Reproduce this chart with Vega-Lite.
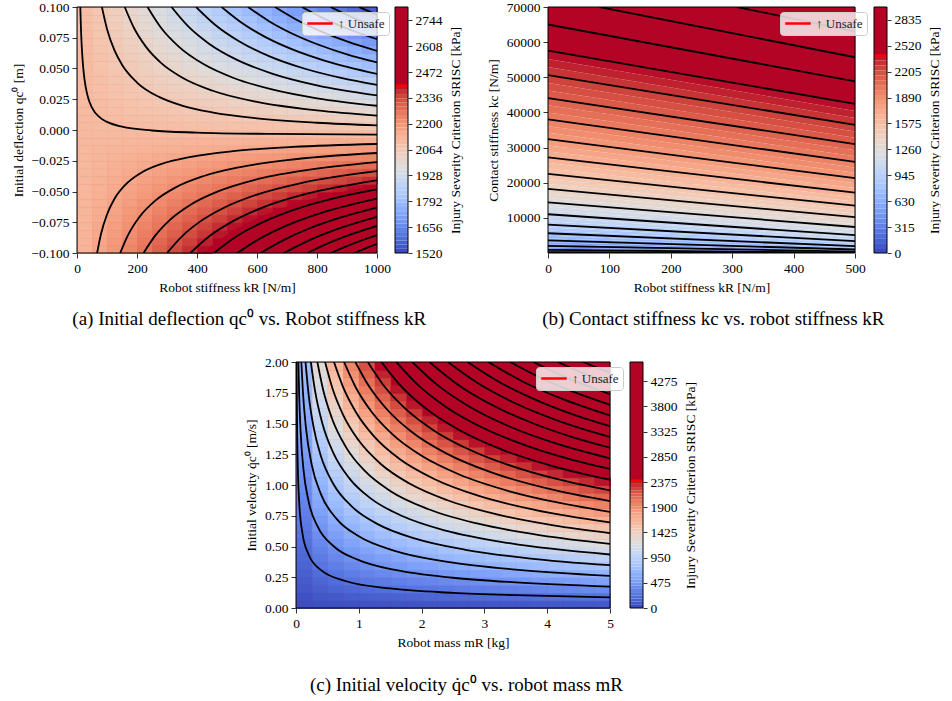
{
"$schema": "https://vega.github.io/schema/vega-lite/v6.json",
"background": "#ffffff",
"padding": {"left": 11, "top": 0, "right": 0, "bottom": 0},
"config": {
 "font": "Liberation Serif",
 "view": {"stroke": null},
 "axis": {"labelFont": "Liberation Serif", "titleFont": "Liberation Serif", "labelFontSize": 13.5, "titleFontSize": 13.5, "titleFontWeight": "normal", "labelColor": "#000000", "titleColor": "#000000", "tickColor": "#000000", "tickSize": 5, "tickWidth": 0.8, "domain": false, "grid": true, "gridColor": "#b0b0b0", "gridWidth": 0.8, "labelPadding": 3, "titlePadding": 6, "labelFlush": false, "labelOverlap": false, "zindex": 1},
 "legend": {"orient": "none", "title": null, "symbolType": "stroke", "symbolStrokeWidth": 2.5, "symbolSize": 650, "clipHeight": 15, "labelFont": "Liberation Serif", "labelFontSize": 13, "labelColor": "#222222", "fillColor": "rgba(255,255,255,0.8)", "strokeColor": "#cccccc", "cornerRadius": 3, "padding": 4},
 "title": {"font": "Liberation Serif", "fontSize": 19, "fontWeight": "normal", "color": "#000000"}
},
"datasets": {
 "fa": [{"x0":0,"x1":1000,"y0":-0.1,"y1":0.1,"v":3000}],
 "fb": [{"x0":0,"x1":500,"y0":0,"y1":70000,"v":3000}],
 "fc": [{"x0":0,"x1":5,"y0":0,"y1":2,"v":5000}],
 "ra": [{"k":421,"lo":-0.1,"hi":-0.1},{"k":450,"lo":-0.1,"hi":-0.0939},{"k":500,"lo":-0.1,"hi":-0.085},{"k":550,"lo":-0.1,"hi":-0.0777},{"k":600,"lo":-0.1,"hi":-0.0717},{"k":700,"lo":-0.1,"hi":-0.0621},{"k":800,"lo":-0.1,"hi":-0.055},{"k":900,"lo":-0.1,"hi":-0.0494},{"k":1000,"lo":-0.1,"hi":-0.045}],
 "rc": [{"m":1.339,"lo":2,"hi":2},{"m":1.5,"lo":1.889,"hi":2},{"m":1.75,"lo":1.749,"hi":2},{"m":2,"lo":1.636,"hi":2},{"m":2.5,"lo":1.4635,"hi":2},{"m":3,"lo":1.336,"hi":2},{"m":3.5,"lo":1.237,"hi":2},{"m":4,"lo":1.157,"hi":2},{"m":4.5,"lo":1.091,"hi":2},{"m":5,"lo":1.035,"hi":2}],
 "ha": [
{"k":25,"q":-0.096875,"v":2117},{"k":75,"q":-0.096875,"v":2152},{"k":125,"q":-0.096875,"v":2186},{"k":175,"q":-0.096875,"v":2221},{"k":225,"q":-0.096875,"v":2255},{"k":275,"q":-0.096875,"v":2290},{"k":325,"q":-0.096875,"v":2324},{"k":375,"q":-0.096875,"v":2358},{"k":425,"q":-0.096875,"v":2393},
{"k":25,"q":-0.090625,"v":2116},{"k":75,"q":-0.090625,"v":2148},{"k":125,"q":-0.090625,"v":2180},{"k":175,"q":-0.090625,"v":2212},{"k":225,"q":-0.090625,"v":2244},{"k":275,"q":-0.090625,"v":2277},{"k":325,"q":-0.090625,"v":2309},{"k":375,"q":-0.090625,"v":2341},{"k":425,"q":-0.090625,"v":2373},
{"k":25,"q":-0.084375,"v":2115},{"k":75,"q":-0.084375,"v":2145},{"k":125,"q":-0.084375,"v":2174},{"k":175,"q":-0.084375,"v":2204},{"k":225,"q":-0.084375,"v":2234},{"k":275,"q":-0.084375,"v":2264},{"k":325,"q":-0.084375,"v":2294},{"k":375,"q":-0.084375,"v":2323},{"k":425,"q":-0.084375,"v":2353},{"k":475,"q":-0.084375,"v":2383},
{"k":25,"q":-0.078125,"v":2114},{"k":75,"q":-0.078125,"v":2141},{"k":125,"q":-0.078125,"v":2168},{"k":175,"q":-0.078125,"v":2196},{"k":225,"q":-0.078125,"v":2223},{"k":275,"q":-0.078125,"v":2251},{"k":325,"q":-0.078125,"v":2278},{"k":375,"q":-0.078125,"v":2306},{"k":425,"q":-0.078125,"v":2333},{"k":475,"q":-0.078125,"v":2360},{"k":525,"q":-0.078125,"v":2388},
{"k":25,"q":-0.071875,"v":2113},{"k":75,"q":-0.071875,"v":2138},{"k":125,"q":-0.071875,"v":2163},{"k":175,"q":-0.071875,"v":2188},{"k":225,"q":-0.071875,"v":2213},{"k":275,"q":-0.071875,"v":2238},{"k":325,"q":-0.071875,"v":2263},{"k":375,"q":-0.071875,"v":2288},{"k":425,"q":-0.071875,"v":2313},{"k":475,"q":-0.071875,"v":2338},{"k":525,"q":-0.071875,"v":2363},{"k":575,"q":-0.071875,"v":2388},
{"k":25,"q":-0.065625,"v":2111},{"k":75,"q":-0.065625,"v":2134},{"k":125,"q":-0.065625,"v":2157},{"k":175,"q":-0.065625,"v":2180},{"k":225,"q":-0.065625,"v":2202},{"k":275,"q":-0.065625,"v":2225},{"k":325,"q":-0.065625,"v":2248},{"k":375,"q":-0.065625,"v":2270},{"k":425,"q":-0.065625,"v":2293},{"k":475,"q":-0.065625,"v":2316},{"k":525,"q":-0.065625,"v":2339},{"k":575,"q":-0.065625,"v":2361},{"k":625,"q":-0.065625,"v":2384},
{"k":25,"q":-0.059375,"v":2110},{"k":75,"q":-0.059375,"v":2131},{"k":125,"q":-0.059375,"v":2151},{"k":175,"q":-0.059375,"v":2171},{"k":225,"q":-0.059375,"v":2192},{"k":275,"q":-0.059375,"v":2212},{"k":325,"q":-0.059375,"v":2233},{"k":375,"q":-0.059375,"v":2253},{"k":425,"q":-0.059375,"v":2273},{"k":475,"q":-0.059375,"v":2294},{"k":525,"q":-0.059375,"v":2314},{"k":575,"q":-0.059375,"v":2334},{"k":625,"q":-0.059375,"v":2355},{"k":675,"q":-0.059375,"v":2375},{"k":725,"q":-0.059375,"v":2396},
{"k":25,"q":-0.053125,"v":2109},{"k":75,"q":-0.053125,"v":2127},{"k":125,"q":-0.053125,"v":2145},{"k":175,"q":-0.053125,"v":2163},{"k":225,"q":-0.053125,"v":2181},{"k":275,"q":-0.053125,"v":2199},{"k":325,"q":-0.053125,"v":2217},{"k":375,"q":-0.053125,"v":2235},{"k":425,"q":-0.053125,"v":2253},{"k":475,"q":-0.053125,"v":2271},{"k":525,"q":-0.053125,"v":2289},{"k":575,"q":-0.053125,"v":2307},{"k":625,"q":-0.053125,"v":2326},{"k":675,"q":-0.053125,"v":2344},{"k":725,"q":-0.053125,"v":2362},{"k":775,"q":-0.053125,"v":2380},{"k":825,"q":-0.053125,"v":2398},
{"k":25,"q":-0.046875,"v":2108},{"k":75,"q":-0.046875,"v":2124},{"k":125,"q":-0.046875,"v":2139},{"k":175,"q":-0.046875,"v":2155},{"k":225,"q":-0.046875,"v":2171},{"k":275,"q":-0.046875,"v":2186},{"k":325,"q":-0.046875,"v":2202},{"k":375,"q":-0.046875,"v":2218},{"k":425,"q":-0.046875,"v":2234},{"k":475,"q":-0.046875,"v":2249},{"k":525,"q":-0.046875,"v":2265},{"k":575,"q":-0.046875,"v":2281},{"k":625,"q":-0.046875,"v":2296},{"k":675,"q":-0.046875,"v":2312},{"k":725,"q":-0.046875,"v":2328},{"k":775,"q":-0.046875,"v":2343},{"k":825,"q":-0.046875,"v":2359},{"k":875,"q":-0.046875,"v":2375},{"k":925,"q":-0.046875,"v":2390},
{"k":25,"q":-0.040625,"v":2107},{"k":75,"q":-0.040625,"v":2120},{"k":125,"q":-0.040625,"v":2133},{"k":175,"q":-0.040625,"v":2147},{"k":225,"q":-0.040625,"v":2160},{"k":275,"q":-0.040625,"v":2174},{"k":325,"q":-0.040625,"v":2187},{"k":375,"q":-0.040625,"v":2200},{"k":425,"q":-0.040625,"v":2214},{"k":475,"q":-0.040625,"v":2227},{"k":525,"q":-0.040625,"v":2240},{"k":575,"q":-0.040625,"v":2254},{"k":625,"q":-0.040625,"v":2267},{"k":675,"q":-0.040625,"v":2280},{"k":725,"q":-0.040625,"v":2294},{"k":775,"q":-0.040625,"v":2307},{"k":825,"q":-0.040625,"v":2321},{"k":875,"q":-0.040625,"v":2334},{"k":925,"q":-0.040625,"v":2347},{"k":975,"q":-0.040625,"v":2361},
{"k":25,"q":-0.034375,"v":2106},{"k":75,"q":-0.034375,"v":2117},{"k":125,"q":-0.034375,"v":2128},{"k":175,"q":-0.034375,"v":2139},{"k":225,"q":-0.034375,"v":2150},{"k":275,"q":-0.034375,"v":2161},{"k":325,"q":-0.034375,"v":2172},{"k":375,"q":-0.034375,"v":2183},{"k":425,"q":-0.034375,"v":2194},{"k":475,"q":-0.034375,"v":2205},{"k":525,"q":-0.034375,"v":2216},{"k":575,"q":-0.034375,"v":2227},{"k":625,"q":-0.034375,"v":2238},{"k":675,"q":-0.034375,"v":2249},{"k":725,"q":-0.034375,"v":2260},{"k":775,"q":-0.034375,"v":2271},{"k":825,"q":-0.034375,"v":2282},{"k":875,"q":-0.034375,"v":2293},{"k":925,"q":-0.034375,"v":2304},{"k":975,"q":-0.034375,"v":2315},
{"k":25,"q":-0.028125,"v":2104},{"k":75,"q":-0.028125,"v":2113},{"k":125,"q":-0.028125,"v":2122},{"k":175,"q":-0.028125,"v":2130},{"k":225,"q":-0.028125,"v":2139},{"k":275,"q":-0.028125,"v":2148},{"k":325,"q":-0.028125,"v":2156},{"k":375,"q":-0.028125,"v":2165},{"k":425,"q":-0.028125,"v":2174},{"k":475,"q":-0.028125,"v":2182},{"k":525,"q":-0.028125,"v":2191},{"k":575,"q":-0.028125,"v":2200},{"k":625,"q":-0.028125,"v":2208},{"k":675,"q":-0.028125,"v":2217},{"k":725,"q":-0.028125,"v":2226},{"k":775,"q":-0.028125,"v":2234},{"k":825,"q":-0.028125,"v":2243},{"k":875,"q":-0.028125,"v":2252},{"k":925,"q":-0.028125,"v":2260},{"k":975,"q":-0.028125,"v":2269},
{"k":25,"q":-0.021875,"v":2103},{"k":75,"q":-0.021875,"v":2110},{"k":125,"q":-0.021875,"v":2116},{"k":175,"q":-0.021875,"v":2122},{"k":225,"q":-0.021875,"v":2129},{"k":275,"q":-0.021875,"v":2135},{"k":325,"q":-0.021875,"v":2141},{"k":375,"q":-0.021875,"v":2148},{"k":425,"q":-0.021875,"v":2154},{"k":475,"q":-0.021875,"v":2160},{"k":525,"q":-0.021875,"v":2166},{"k":575,"q":-0.021875,"v":2173},{"k":625,"q":-0.021875,"v":2179},{"k":675,"q":-0.021875,"v":2185},{"k":725,"q":-0.021875,"v":2192},{"k":775,"q":-0.021875,"v":2198},{"k":825,"q":-0.021875,"v":2204},{"k":875,"q":-0.021875,"v":2211},{"k":925,"q":-0.021875,"v":2217},{"k":975,"q":-0.021875,"v":2223},
{"k":25,"q":-0.015625,"v":2102},{"k":75,"q":-0.015625,"v":2106},{"k":125,"q":-0.015625,"v":2110},{"k":175,"q":-0.015625,"v":2114},{"k":225,"q":-0.015625,"v":2118},{"k":275,"q":-0.015625,"v":2122},{"k":325,"q":-0.015625,"v":2126},{"k":375,"q":-0.015625,"v":2130},{"k":425,"q":-0.015625,"v":2134},{"k":475,"q":-0.015625,"v":2138},{"k":525,"q":-0.015625,"v":2142},{"k":575,"q":-0.015625,"v":2146},{"k":625,"q":-0.015625,"v":2150},{"k":675,"q":-0.015625,"v":2154},{"k":725,"q":-0.015625,"v":2158},{"k":775,"q":-0.015625,"v":2162},{"k":825,"q":-0.015625,"v":2166},{"k":875,"q":-0.015625,"v":2170},{"k":925,"q":-0.015625,"v":2174},{"k":975,"q":-0.015625,"v":2178},
{"k":25,"q":-0.009375,"v":2101},{"k":75,"q":-0.009375,"v":2102},{"k":125,"q":-0.009375,"v":2104},{"k":175,"q":-0.009375,"v":2106},{"k":225,"q":-0.009375,"v":2107},{"k":275,"q":-0.009375,"v":2109},{"k":325,"q":-0.009375,"v":2111},{"k":375,"q":-0.009375,"v":2112},{"k":425,"q":-0.009375,"v":2114},{"k":475,"q":-0.009375,"v":2116},{"k":525,"q":-0.009375,"v":2117},{"k":575,"q":-0.009375,"v":2119},{"k":625,"q":-0.009375,"v":2120},{"k":675,"q":-0.009375,"v":2122},{"k":725,"q":-0.009375,"v":2124},{"k":775,"q":-0.009375,"v":2125},{"k":825,"q":-0.009375,"v":2127},{"k":875,"q":-0.009375,"v":2129},{"k":925,"q":-0.009375,"v":2130},{"k":975,"q":-0.009375,"v":2132},
{"k":25,"q":-0.003125,"v":2100},{"k":75,"q":-0.003125,"v":2099},{"k":125,"q":-0.003125,"v":2099},{"k":175,"q":-0.003125,"v":2098},{"k":225,"q":-0.003125,"v":2098},{"k":275,"q":-0.003125,"v":2097},{"k":325,"q":-0.003125,"v":2097},{"k":375,"q":-0.003125,"v":2096},{"k":425,"q":-0.003125,"v":2096},{"k":475,"q":-0.003125,"v":2095},{"k":525,"q":-0.003125,"v":2095},{"k":575,"q":-0.003125,"v":2094},{"k":625,"q":-0.003125,"v":2094},{"k":675,"q":-0.003125,"v":2093},{"k":725,"q":-0.003125,"v":2093},{"k":775,"q":-0.003125,"v":2092},{"k":825,"q":-0.003125,"v":2091},{"k":875,"q":-0.003125,"v":2091},{"k":925,"q":-0.003125,"v":2090},{"k":975,"q":-0.003125,"v":2090},
{"k":25,"q":0.003125,"v":2099},{"k":75,"q":0.003125,"v":2097},{"k":125,"q":0.003125,"v":2094},{"k":175,"q":0.003125,"v":2092},{"k":225,"q":0.003125,"v":2090},{"k":275,"q":0.003125,"v":2088},{"k":325,"q":0.003125,"v":2086},{"k":375,"q":0.003125,"v":2083},{"k":425,"q":0.003125,"v":2081},{"k":475,"q":0.003125,"v":2079},{"k":525,"q":0.003125,"v":2077},{"k":575,"q":0.003125,"v":2074},{"k":625,"q":0.003125,"v":2072},{"k":675,"q":0.003125,"v":2070},{"k":725,"q":0.003125,"v":2068},{"k":775,"q":0.003125,"v":2065},{"k":825,"q":0.003125,"v":2063},{"k":875,"q":0.003125,"v":2061},{"k":925,"q":0.003125,"v":2059},{"k":975,"q":0.003125,"v":2056},
{"k":25,"q":0.009375,"v":2098},{"k":75,"q":0.009375,"v":2094},{"k":125,"q":0.009375,"v":2090},{"k":175,"q":0.009375,"v":2086},{"k":225,"q":0.009375,"v":2082},{"k":275,"q":0.009375,"v":2078},{"k":325,"q":0.009375,"v":2074},{"k":375,"q":0.009375,"v":2070},{"k":425,"q":0.009375,"v":2066},{"k":475,"q":0.009375,"v":2062},{"k":525,"q":0.009375,"v":2058},{"k":575,"q":0.009375,"v":2055},{"k":625,"q":0.009375,"v":2051},{"k":675,"q":0.009375,"v":2047},{"k":725,"q":0.009375,"v":2043},{"k":775,"q":0.009375,"v":2039},{"k":825,"q":0.009375,"v":2035},{"k":875,"q":0.009375,"v":2031},{"k":925,"q":0.009375,"v":2027},{"k":975,"q":0.009375,"v":2023},
{"k":25,"q":0.015625,"v":2097},{"k":75,"q":0.015625,"v":2092},{"k":125,"q":0.015625,"v":2086},{"k":175,"q":0.015625,"v":2080},{"k":225,"q":0.015625,"v":2075},{"k":275,"q":0.015625,"v":2069},{"k":325,"q":0.015625,"v":2063},{"k":375,"q":0.015625,"v":2058},{"k":425,"q":0.015625,"v":2052},{"k":475,"q":0.015625,"v":2046},{"k":525,"q":0.015625,"v":2041},{"k":575,"q":0.015625,"v":2035},{"k":625,"q":0.015625,"v":2029},{"k":675,"q":0.015625,"v":2023},{"k":725,"q":0.015625,"v":2018},{"k":775,"q":0.015625,"v":2012},{"k":825,"q":0.015625,"v":2006},{"k":875,"q":0.015625,"v":2001},{"k":925,"q":0.015625,"v":1995},{"k":975,"q":0.015625,"v":1989},
{"k":25,"q":0.021875,"v":2096},{"k":75,"q":0.021875,"v":2089},{"k":125,"q":0.021875,"v":2082},{"k":175,"q":0.021875,"v":2074},{"k":225,"q":0.021875,"v":2067},{"k":275,"q":0.021875,"v":2059},{"k":325,"q":0.021875,"v":2052},{"k":375,"q":0.021875,"v":2045},{"k":425,"q":0.021875,"v":2037},{"k":475,"q":0.021875,"v":2030},{"k":525,"q":0.021875,"v":2022},{"k":575,"q":0.021875,"v":2015},{"k":625,"q":0.021875,"v":2008},{"k":675,"q":0.021875,"v":2000},{"k":725,"q":0.021875,"v":1993},{"k":775,"q":0.021875,"v":1985},{"k":825,"q":0.021875,"v":1978},{"k":875,"q":0.021875,"v":1971},{"k":925,"q":0.021875,"v":1963},{"k":975,"q":0.021875,"v":1956},
{"k":25,"q":0.028125,"v":2095},{"k":75,"q":0.028125,"v":2086},{"k":125,"q":0.028125,"v":2077},{"k":175,"q":0.028125,"v":2068},{"k":225,"q":0.028125,"v":2059},{"k":275,"q":0.028125,"v":2050},{"k":325,"q":0.028125,"v":2041},{"k":375,"q":0.028125,"v":2032},{"k":425,"q":0.028125,"v":2023},{"k":475,"q":0.028125,"v":2013},{"k":525,"q":0.028125,"v":2004},{"k":575,"q":0.028125,"v":1995},{"k":625,"q":0.028125,"v":1986},{"k":675,"q":0.028125,"v":1977},{"k":725,"q":0.028125,"v":1968},{"k":775,"q":0.028125,"v":1959},{"k":825,"q":0.028125,"v":1950},{"k":875,"q":0.028125,"v":1941},{"k":925,"q":0.028125,"v":1931},{"k":975,"q":0.028125,"v":1922},
{"k":25,"q":0.034375,"v":2095},{"k":75,"q":0.034375,"v":2084},{"k":125,"q":0.034375,"v":2073},{"k":175,"q":0.034375,"v":2062},{"k":225,"q":0.034375,"v":2051},{"k":275,"q":0.034375,"v":2041},{"k":325,"q":0.034375,"v":2030},{"k":375,"q":0.034375,"v":2019},{"k":425,"q":0.034375,"v":2008},{"k":475,"q":0.034375,"v":1997},{"k":525,"q":0.034375,"v":1986},{"k":575,"q":0.034375,"v":1975},{"k":625,"q":0.034375,"v":1965},{"k":675,"q":0.034375,"v":1954},{"k":725,"q":0.034375,"v":1943},{"k":775,"q":0.034375,"v":1932},{"k":825,"q":0.034375,"v":1921},{"k":875,"q":0.034375,"v":1910},{"k":925,"q":0.034375,"v":1900},{"k":975,"q":0.034375,"v":1889},
{"k":25,"q":0.040625,"v":2094},{"k":75,"q":0.040625,"v":2081},{"k":125,"q":0.040625,"v":2069},{"k":175,"q":0.040625,"v":2056},{"k":225,"q":0.040625,"v":2043},{"k":275,"q":0.040625,"v":2031},{"k":325,"q":0.040625,"v":2018},{"k":375,"q":0.040625,"v":2006},{"k":425,"q":0.040625,"v":1993},{"k":475,"q":0.040625,"v":1981},{"k":525,"q":0.040625,"v":1968},{"k":575,"q":0.040625,"v":1956},{"k":625,"q":0.040625,"v":1943},{"k":675,"q":0.040625,"v":1931},{"k":725,"q":0.040625,"v":1918},{"k":775,"q":0.040625,"v":1905},{"k":825,"q":0.040625,"v":1893},{"k":875,"q":0.040625,"v":1880},{"k":925,"q":0.040625,"v":1868},{"k":975,"q":0.040625,"v":1855},
{"k":25,"q":0.046875,"v":2093},{"k":75,"q":0.046875,"v":2079},{"k":125,"q":0.046875,"v":2064},{"k":175,"q":0.046875,"v":2050},{"k":225,"q":0.046875,"v":2036},{"k":275,"q":0.046875,"v":2022},{"k":325,"q":0.046875,"v":2007},{"k":375,"q":0.046875,"v":1993},{"k":425,"q":0.046875,"v":1979},{"k":475,"q":0.046875,"v":1964},{"k":525,"q":0.046875,"v":1950},{"k":575,"q":0.046875,"v":1936},{"k":625,"q":0.046875,"v":1922},{"k":675,"q":0.046875,"v":1907},{"k":725,"q":0.046875,"v":1893},{"k":775,"q":0.046875,"v":1879},{"k":825,"q":0.046875,"v":1865},{"k":875,"q":0.046875,"v":1850},{"k":925,"q":0.046875,"v":1836},{"k":975,"q":0.046875,"v":1822},
{"k":25,"q":0.053125,"v":2092},{"k":75,"q":0.053125,"v":2076},{"k":125,"q":0.053125,"v":2060},{"k":175,"q":0.053125,"v":2044},{"k":225,"q":0.053125,"v":2028},{"k":275,"q":0.053125,"v":2012},{"k":325,"q":0.053125,"v":1996},{"k":375,"q":0.053125,"v":1980},{"k":425,"q":0.053125,"v":1964},{"k":475,"q":0.053125,"v":1948},{"k":525,"q":0.053125,"v":1932},{"k":575,"q":0.053125,"v":1916},{"k":625,"q":0.053125,"v":1900},{"k":675,"q":0.053125,"v":1884},{"k":725,"q":0.053125,"v":1868},{"k":775,"q":0.053125,"v":1852},{"k":825,"q":0.053125,"v":1836},{"k":875,"q":0.053125,"v":1820},{"k":925,"q":0.053125,"v":1804},{"k":975,"q":0.053125,"v":1788},
{"k":25,"q":0.059375,"v":2091},{"k":75,"q":0.059375,"v":2074},{"k":125,"q":0.059375,"v":2056},{"k":175,"q":0.059375,"v":2038},{"k":225,"q":0.059375,"v":2020},{"k":275,"q":0.059375,"v":2003},{"k":325,"q":0.059375,"v":1985},{"k":375,"q":0.059375,"v":1967},{"k":425,"q":0.059375,"v":1950},{"k":475,"q":0.059375,"v":1932},{"k":525,"q":0.059375,"v":1914},{"k":575,"q":0.059375,"v":1897},{"k":625,"q":0.059375,"v":1879},{"k":675,"q":0.059375,"v":1861},{"k":725,"q":0.059375,"v":1843},{"k":775,"q":0.059375,"v":1826},{"k":825,"q":0.059375,"v":1808},{"k":875,"q":0.059375,"v":1790},{"k":925,"q":0.059375,"v":1773},{"k":975,"q":0.059375,"v":1755},
{"k":25,"q":0.065625,"v":2090},{"k":75,"q":0.065625,"v":2071},{"k":125,"q":0.065625,"v":2052},{"k":175,"q":0.065625,"v":2032},{"k":225,"q":0.065625,"v":2013},{"k":275,"q":0.065625,"v":1993},{"k":325,"q":0.065625,"v":1974},{"k":375,"q":0.065625,"v":1954},{"k":425,"q":0.065625,"v":1935},{"k":475,"q":0.065625,"v":1916},{"k":525,"q":0.065625,"v":1896},{"k":575,"q":0.065625,"v":1877},{"k":625,"q":0.065625,"v":1857},{"k":675,"q":0.065625,"v":1838},{"k":725,"q":0.065625,"v":1818},{"k":775,"q":0.065625,"v":1799},{"k":825,"q":0.065625,"v":1780},{"k":875,"q":0.065625,"v":1760},{"k":925,"q":0.065625,"v":1741},{"k":975,"q":0.065625,"v":1721},
{"k":25,"q":0.071875,"v":2089},{"k":75,"q":0.071875,"v":2068},{"k":125,"q":0.071875,"v":2047},{"k":175,"q":0.071875,"v":2026},{"k":225,"q":0.071875,"v":2005},{"k":275,"q":0.071875,"v":1984},{"k":325,"q":0.071875,"v":1963},{"k":375,"q":0.071875,"v":1941},{"k":425,"q":0.071875,"v":1920},{"k":475,"q":0.071875,"v":1899},{"k":525,"q":0.071875,"v":1878},{"k":575,"q":0.071875,"v":1857},{"k":625,"q":0.071875,"v":1836},{"k":675,"q":0.071875,"v":1815},{"k":725,"q":0.071875,"v":1794},{"k":775,"q":0.071875,"v":1772},{"k":825,"q":0.071875,"v":1751},{"k":875,"q":0.071875,"v":1730},{"k":925,"q":0.071875,"v":1709},{"k":975,"q":0.071875,"v":1688},
{"k":25,"q":0.078125,"v":2089},{"k":75,"q":0.078125,"v":2066},{"k":125,"q":0.078125,"v":2043},{"k":175,"q":0.078125,"v":2020},{"k":225,"q":0.078125,"v":1997},{"k":275,"q":0.078125,"v":1974},{"k":325,"q":0.078125,"v":1951},{"k":375,"q":0.078125,"v":1929},{"k":425,"q":0.078125,"v":1906},{"k":475,"q":0.078125,"v":1883},{"k":525,"q":0.078125,"v":1860},{"k":575,"q":0.078125,"v":1837},{"k":625,"q":0.078125,"v":1814},{"k":675,"q":0.078125,"v":1791},{"k":725,"q":0.078125,"v":1768},{"k":775,"q":0.078125,"v":1746},{"k":825,"q":0.078125,"v":1723},{"k":875,"q":0.078125,"v":1700},{"k":925,"q":0.078125,"v":1677},{"k":975,"q":0.078125,"v":1654},
{"k":25,"q":0.084375,"v":2088},{"k":75,"q":0.084375,"v":2063},{"k":125,"q":0.084375,"v":2039},{"k":175,"q":0.084375,"v":2014},{"k":225,"q":0.084375,"v":1989},{"k":275,"q":0.084375,"v":1965},{"k":325,"q":0.084375,"v":1940},{"k":375,"q":0.084375,"v":1916},{"k":425,"q":0.084375,"v":1891},{"k":475,"q":0.084375,"v":1866},{"k":525,"q":0.084375,"v":1842},{"k":575,"q":0.084375,"v":1817},{"k":625,"q":0.084375,"v":1793},{"k":675,"q":0.084375,"v":1768},{"k":725,"q":0.084375,"v":1743},{"k":775,"q":0.084375,"v":1719},{"k":825,"q":0.084375,"v":1694},{"k":875,"q":0.084375,"v":1670},{"k":925,"q":0.084375,"v":1645},{"k":975,"q":0.084375,"v":1620},
{"k":25,"q":0.090625,"v":2087},{"k":75,"q":0.090625,"v":2061},{"k":125,"q":0.090625,"v":2034},{"k":175,"q":0.090625,"v":2008},{"k":225,"q":0.090625,"v":1982},{"k":275,"q":0.090625,"v":1955},{"k":325,"q":0.090625,"v":1929},{"k":375,"q":0.090625,"v":1903},{"k":425,"q":0.090625,"v":1876},{"k":475,"q":0.090625,"v":1850},{"k":525,"q":0.090625,"v":1824},{"k":575,"q":0.090625,"v":1797},{"k":625,"q":0.090625,"v":1771},{"k":675,"q":0.090625,"v":1745},{"k":725,"q":0.090625,"v":1719},{"k":775,"q":0.090625,"v":1692},{"k":825,"q":0.090625,"v":1666},{"k":875,"q":0.090625,"v":1640},{"k":925,"q":0.090625,"v":1613},{"k":975,"q":0.090625,"v":1587},
{"k":25,"q":0.096875,"v":2086},{"k":75,"q":0.096875,"v":2058},{"k":125,"q":0.096875,"v":2030},{"k":175,"q":0.096875,"v":2002},{"k":225,"q":0.096875,"v":1974},{"k":275,"q":0.096875,"v":1946},{"k":325,"q":0.096875,"v":1918},{"k":375,"q":0.096875,"v":1890},{"k":425,"q":0.096875,"v":1862},{"k":475,"q":0.096875,"v":1834},{"k":525,"q":0.096875,"v":1806},{"k":575,"q":0.096875,"v":1778},{"k":625,"q":0.096875,"v":1750},{"k":675,"q":0.096875,"v":1722},{"k":725,"q":0.096875,"v":1694},{"k":775,"q":0.096875,"v":1666},{"k":825,"q":0.096875,"v":1638},{"k":875,"q":0.096875,"v":1610},{"k":925,"q":0.096875,"v":1582},{"k":975,"q":0.096875,"v":1554}
 ],
 "la": [
{"n":0,"k":11,"q":0.1},{"n":0,"k":13,"q":0.0838},{"n":0,"k":16,"q":0.0672},{"n":0,"k":20,"q":0.0528},{"n":0,"k":25,"q":0.0412},{"n":0,"k":35,"q":0.028},{"n":0,"k":50,"q":0.0181},{"n":0,"k":75,"q":0.0104},{"n":0,"k":100,"q":0.0066},{"n":0,"k":150,"q":0.0027},{"n":0,"k":250,"q":-0.0004},{"n":0,"k":400,"q":-0.0021},{"n":0,"k":650,"q":-0.0032},{"n":0,"k":1000,"q":-0.0038},
{"n":1,"k":83,"q":0.1},{"n":1,"k":100,"q":0.0822},{"n":1,"k":125,"q":0.0647},{"n":1,"k":150,"q":0.0531},{"n":1,"k":200,"q":0.0386},{"n":1,"k":275,"q":0.0267},{"n":1,"k":350,"q":0.0199},{"n":1,"k":450,"q":0.0144},{"n":1,"k":600,"q":0.0095},{"n":1,"k":800,"q":0.0059},{"n":1,"k":1000,"q":0.0037},
{"n":2,"k":159,"q":0.1},{"n":2,"k":190,"q":0.0829},{"n":2,"k":230,"q":0.0676},{"n":2,"k":280,"q":0.0546},{"n":2,"k":350,"q":0.0427},{"n":2,"k":450,"q":0.0321},{"n":2,"k":600,"q":0.0228},{"n":2,"k":800,"q":0.0159},{"n":2,"k":1000,"q":0.0117},
{"n":3,"k":235,"q":0.1},{"n":3,"k":280,"q":0.0831},{"n":3,"k":340,"q":0.0676},{"n":3,"k":420,"q":0.0538},{"n":3,"k":520,"q":0.0425},{"n":3,"k":650,"q":0.033},{"n":3,"k":800,"q":0.0258},{"n":3,"k":1000,"q":0.0197},
{"n":4,"k":315,"q":0.1},{"n":4,"k":370,"q":0.0844},{"n":4,"k":440,"q":0.0702},{"n":4,"k":530,"q":0.0574},{"n":4,"k":650,"q":0.0459},{"n":4,"k":800,"q":0.0363},{"n":4,"k":1000,"q":0.0281},
{"n":5,"k":397,"q":0.1},{"n":5,"k":460,"q":0.0856},{"n":5,"k":540,"q":0.0722},{"n":5,"k":640,"q":0.0601},{"n":5,"k":760,"q":0.0498},{"n":5,"k":880,"q":0.0424},{"n":5,"k":1000,"q":0.0367},
{"n":6,"k":482,"q":0.1},{"n":6,"k":550,"q":0.087},{"n":6,"k":630,"q":0.0753},{"n":6,"k":720,"q":0.0653},{"n":6,"k":830,"q":0.056},{"n":6,"k":1000,"q":0.0456},
{"n":7,"k":570,"q":0.1},{"n":7,"k":640,"q":0.0885},{"n":7,"k":720,"q":0.0781},{"n":7,"k":810,"q":0.0689},{"n":7,"k":900,"q":0.0615},{"n":7,"k":1000,"q":0.0549},
{"n":8,"k":660,"q":0.1},{"n":8,"k":730,"q":0.0899},{"n":8,"k":800,"q":0.0816},{"n":8,"k":900,"q":0.072},{"n":8,"k":1000,"q":0.0643},
{"n":9,"k":750,"q":0.1},{"n":9,"k":820,"q":0.091},{"n":9,"k":900,"q":0.0825},{"n":9,"k":1000,"q":0.0738},
{"n":10,"k":845,"q":0.1},{"n":10,"k":920,"q":0.0914},{"n":10,"k":1000,"q":0.0837},
{"n":11,"k":940,"q":0.1},{"n":11,"k":970,"q":0.0968},{"n":11,"k":1000,"q":0.0937},
{"n":20,"k":67,"q":-0.1},{"n":20,"k":80,"q":-0.0846},{"n":20,"k":100,"q":-0.0687},{"n":20,"k":125,"q":-0.0559},{"n":20,"k":160,"q":-0.0448},{"n":20,"k":210,"q":-0.0353},{"n":20,"k":280,"q":-0.0277},{"n":20,"k":380,"q":-0.0218},{"n":20,"k":520,"q":-0.0172},{"n":20,"k":720,"q":-0.0138},{"n":20,"k":1000,"q":-0.0114},
{"n":21,"k":144,"q":-0.1},{"n":21,"k":170,"q":-0.0855},{"n":21,"k":210,"q":-0.0701},{"n":21,"k":260,"q":-0.0576},{"n":21,"k":330,"q":-0.0465},{"n":21,"k":420,"q":-0.0376},{"n":21,"k":540,"q":-0.0303},{"n":21,"k":700,"q":-0.0245},{"n":21,"k":1000,"q":-0.0187},
{"n":22,"k":222,"q":-0.1},{"n":22,"k":260,"q":-0.0861},{"n":22,"k":310,"q":-0.073},{"n":22,"k":380,"q":-0.0605},{"n":22,"k":470,"q":-0.0499},{"n":22,"k":590,"q":-0.0407},{"n":22,"k":760,"q":-0.0328},{"n":22,"k":1000,"q":-0.0261},
{"n":23,"k":300,"q":-0.1},{"n":23,"k":350,"q":-0.0864},{"n":23,"k":410,"q":-0.0745},{"n":23,"k":490,"q":-0.0632},{"n":23,"k":600,"q":-0.0525},{"n":23,"k":750,"q":-0.043},{"n":23,"k":1000,"q":-0.0335},
{"n":24,"k":378,"q":-0.1},{"n":24,"k":440,"q":-0.0866},{"n":24,"k":520,"q":-0.0741},{"n":24,"k":620,"q":-0.0629},{"n":24,"k":760,"q":-0.0522},{"n":24,"k":1000,"q":-0.0409},
{"n":25,"k":456,"q":-0.1},{"n":25,"k":530,"q":-0.0867},{"n":25,"k":620,"q":-0.0749},{"n":25,"k":740,"q":-0.0635},{"n":25,"k":870,"q":-0.0548},{"n":25,"k":1000,"q":-0.0483},
{"n":26,"k":534,"q":-0.1},{"n":26,"k":610,"q":-0.0882},{"n":26,"k":700,"q":-0.0775},{"n":26,"k":820,"q":-0.0669},{"n":26,"k":1000,"q":-0.0557},
{"n":27,"k":612,"q":-0.1},{"n":27,"k":690,"q":-0.0893},{"n":27,"k":780,"q":-0.0795},{"n":27,"k":880,"q":-0.0711},{"n":27,"k":1000,"q":-0.0631},
{"n":28,"k":690,"q":-0.1},{"n":28,"k":770,"q":-0.0901},{"n":28,"k":860,"q":-0.0812},{"n":28,"k":1000,"q":-0.0706},
{"n":29,"k":768,"q":-0.1},{"n":29,"k":850,"q":-0.0908},{"n":29,"k":930,"q":-0.0835},{"n":29,"k":1000,"q":-0.078},
{"n":30,"k":846,"q":-0.1},{"n":30,"k":920,"q":-0.0924},{"n":30,"k":1000,"q":-0.0854},
{"n":31,"k":924,"q":-0.1},{"n":31,"k":960,"q":-0.0964},{"n":31,"k":1000,"q":-0.0928}
 ],
 "bb": [
{"b":0,"k":0,"lo":0,"hi":25,"v":25},{"b":0,"k":500,"lo":0,"hi":1,"v":25},
{"b":1,"k":0,"lo":25,"hi":100,"v":75},{"b":1,"k":500,"lo":1,"hi":4,"v":75},
{"b":2,"k":0,"lo":100,"hi":225,"v":125},{"b":2,"k":500,"lo":4,"hi":9,"v":125},
{"b":3,"k":0,"lo":225,"hi":400,"v":175},{"b":3,"k":500,"lo":9,"hi":28,"v":175},
{"b":4,"k":0,"lo":400,"hi":625,"v":225},{"b":4,"k":500,"lo":28,"hi":59,"v":225},
{"b":5,"k":0,"lo":625,"hi":900,"v":275},{"b":5,"k":500,"lo":59,"hi":100,"v":275},
{"b":6,"k":0,"lo":900,"hi":1225,"v":325},{"b":6,"k":500,"lo":100,"hi":177,"v":325},
{"b":7,"k":0,"lo":1225,"hi":1600,"v":375},{"b":7,"k":500,"lo":177,"hi":279,"v":375},
{"b":8,"k":0,"lo":1600,"hi":2025,"v":425},{"b":8,"k":500,"lo":279,"hi":400,"v":425},
{"b":9,"k":0,"lo":2025,"hi":2500,"v":475},{"b":9,"k":500,"lo":400,"hi":566,"v":475},
{"b":10,"k":0,"lo":2500,"hi":3025,"v":525},{"b":10,"k":500,"lo":566,"hi":767,"v":525},
{"b":11,"k":0,"lo":3025,"hi":3600,"v":575},{"b":11,"k":500,"lo":767,"hi":992,"v":575},
{"b":12,"k":0,"lo":3600,"hi":4225,"v":625},{"b":12,"k":500,"lo":992,"hi":1274,"v":625},
{"b":13,"k":0,"lo":4225,"hi":4900,"v":675},{"b":13,"k":500,"lo":1274,"hi":1592,"v":675},
{"b":14,"k":0,"lo":4900,"hi":5625,"v":725},{"b":14,"k":500,"lo":1592,"hi":1945,"v":725},
{"b":15,"k":0,"lo":5625,"hi":6400,"v":775},{"b":15,"k":500,"lo":1945,"hi":2372,"v":775},
{"b":16,"k":0,"lo":6400,"hi":7225,"v":825},{"b":16,"k":500,"lo":2372,"hi":2852,"v":825},
{"b":17,"k":0,"lo":7225,"hi":8100,"v":875},{"b":17,"k":500,"lo":2852,"hi":3364,"v":875},
{"b":18,"k":0,"lo":8100,"hi":9025,"v":925},{"b":18,"k":500,"lo":3364,"hi":3894,"v":925},
{"b":19,"k":0,"lo":9025,"hi":10000,"v":975},{"b":19,"k":500,"lo":3894,"hi":4462,"v":975},
{"b":20,"k":0,"lo":10000,"hi":11025,"v":1025},{"b":20,"k":500,"lo":4462,"hi":5069,"v":1025},
{"b":21,"k":0,"lo":11025,"hi":12100,"v":1075},{"b":21,"k":500,"lo":5069,"hi":5791,"v":1075},
{"b":22,"k":0,"lo":12100,"hi":13225,"v":1125},{"b":22,"k":500,"lo":5791,"hi":6577,"v":1125},
{"b":23,"k":0,"lo":13225,"hi":14400,"v":1175},{"b":23,"k":500,"lo":6577,"hi":7396,"v":1175},
{"b":24,"k":0,"lo":14400,"hi":15625,"v":1225},{"b":24,"k":500,"lo":7396,"hi":8281,"v":1225},
{"b":25,"k":0,"lo":15625,"hi":16900,"v":1275},{"b":25,"k":500,"lo":8281,"hi":9216,"v":1275},
{"b":26,"k":0,"lo":16900,"hi":18225,"v":1325},{"b":26,"k":500,"lo":9216,"hi":10201,"v":1325},
{"b":27,"k":0,"lo":18225,"hi":19600,"v":1375},{"b":27,"k":500,"lo":10201,"hi":11236,"v":1375},
{"b":28,"k":0,"lo":19600,"hi":21025,"v":1425},{"b":28,"k":500,"lo":11236,"hi":12321,"v":1425},
{"b":29,"k":0,"lo":21025,"hi":22500,"v":1475},{"b":29,"k":500,"lo":12321,"hi":13456,"v":1475},
{"b":30,"k":0,"lo":22500,"hi":24025,"v":1525},{"b":30,"k":500,"lo":13456,"hi":14641,"v":1525},
{"b":31,"k":0,"lo":24025,"hi":25600,"v":1575},{"b":31,"k":500,"lo":14641,"hi":15876,"v":1575},
{"b":32,"k":0,"lo":25600,"hi":27225,"v":1625},{"b":32,"k":500,"lo":15876,"hi":17161,"v":1625},
{"b":33,"k":0,"lo":27225,"hi":28900,"v":1675},{"b":33,"k":500,"lo":17161,"hi":18496,"v":1675},
{"b":34,"k":0,"lo":28900,"hi":30625,"v":1725},{"b":34,"k":500,"lo":18496,"hi":19881,"v":1725},
{"b":35,"k":0,"lo":30625,"hi":32400,"v":1775},{"b":35,"k":500,"lo":19881,"hi":21316,"v":1775},
{"b":36,"k":0,"lo":32400,"hi":34225,"v":1825},{"b":36,"k":500,"lo":21316,"hi":22801,"v":1825},
{"b":37,"k":0,"lo":34225,"hi":36100,"v":1875},{"b":37,"k":500,"lo":22801,"hi":24336,"v":1875},
{"b":38,"k":0,"lo":36100,"hi":38025,"v":1925},{"b":38,"k":500,"lo":24336,"hi":25921,"v":1925},
{"b":39,"k":0,"lo":38025,"hi":40000,"v":1975},{"b":39,"k":500,"lo":25921,"hi":27556,"v":1975},
{"b":40,"k":0,"lo":40000,"hi":42025,"v":2025},{"b":40,"k":500,"lo":27556,"hi":29241,"v":2025},
{"b":41,"k":0,"lo":42025,"hi":44100,"v":2075},{"b":41,"k":500,"lo":29241,"hi":30976,"v":2075},
{"b":42,"k":0,"lo":44100,"hi":46225,"v":2125},{"b":42,"k":500,"lo":30976,"hi":32761,"v":2125},
{"b":43,"k":0,"lo":46225,"hi":48400,"v":2175},{"b":43,"k":500,"lo":32761,"hi":34596,"v":2175},
{"b":44,"k":0,"lo":48400,"hi":50625,"v":2225},{"b":44,"k":500,"lo":34596,"hi":36481,"v":2225},
{"b":45,"k":0,"lo":50625,"hi":52900,"v":2275},{"b":45,"k":500,"lo":36481,"hi":38416,"v":2275},
{"b":46,"k":0,"lo":52900,"hi":55225,"v":2325},{"b":46,"k":500,"lo":38416,"hi":40401,"v":2325},
{"b":47,"k":0,"lo":55225,"hi":57600,"v":2375},{"b":47,"k":500,"lo":40401,"hi":42436,"v":2375},
{"b":48,"k":0,"lo":57600,"hi":70000,"v":2700},{"b":48,"k":500,"lo":42436,"hi":70000,"v":2700}
 ],
 "lb": [
{"n":15,"k":0,"c":225},{"n":15,"k":500,"c":9},
{"n":30,"k":0,"c":900},{"n":30,"k":500,"c":100},
{"n":45,"k":0,"c":2025},{"n":45,"k":500,"c":400},
{"n":60,"k":0,"c":3600},{"n":60,"k":500,"c":992},
{"n":75,"k":0,"c":5625},{"n":75,"k":500,"c":1945},
{"n":90,"k":0,"c":8100},{"n":90,"k":500,"c":3364},
{"n":105,"k":0,"c":11025},{"n":105,"k":500,"c":5069},
{"n":120,"k":0,"c":14400},{"n":120,"k":500,"c":7396},
{"n":135,"k":0,"c":18225},{"n":135,"k":500,"c":10201},
{"n":150,"k":0,"c":22500},{"n":150,"k":500,"c":13456},
{"n":165,"k":0,"c":27225},{"n":165,"k":500,"c":17161},
{"n":180,"k":0,"c":32400},{"n":180,"k":500,"c":21316},
{"n":195,"k":0,"c":38025},{"n":195,"k":500,"c":25921},
{"n":210,"k":0,"c":44100},{"n":210,"k":500,"c":30976},
{"n":225,"k":0,"c":50625},{"n":225,"k":500,"c":36481},
{"n":240,"k":0,"c":57600},{"n":240,"k":500,"c":42436},
{"n":255,"k":0,"c":65025},{"n":255,"k":500,"c":48841},
{"n":270,"k":84,"c":70000},{"n":270,"k":500,"c":55696},
{"n":285,"k":308,"c":70000},{"n":285,"k":500,"c":63001}
 ],
 "hc": [
{"m":0.125,"w":0.03125,"v":11},{"m":0.375,"w":0.03125,"v":20},{"m":0.625,"w":0.03125,"v":26},{"m":0.875,"w":0.03125,"v":30},{"m":1.125,"w":0.03125,"v":34},{"m":1.375,"w":0.03125,"v":38},{"m":1.625,"w":0.03125,"v":41},{"m":1.875,"w":0.03125,"v":44},{"m":2.125,"w":0.03125,"v":47},{"m":2.375,"w":0.03125,"v":50},{"m":2.625,"w":0.03125,"v":53},{"m":2.875,"w":0.03125,"v":55},{"m":3.125,"w":0.03125,"v":57},{"m":3.375,"w":0.03125,"v":60},{"m":3.625,"w":0.03125,"v":62},{"m":3.875,"w":0.03125,"v":64},{"m":4.125,"w":0.03125,"v":66},{"m":4.375,"w":0.03125,"v":68},{"m":4.625,"w":0.03125,"v":70},{"m":4.875,"w":0.03125,"v":72},
{"m":0.125,"w":0.09375,"v":34},{"m":0.375,"w":0.09375,"v":60},{"m":0.625,"w":0.09375,"v":77},{"m":0.875,"w":0.09375,"v":91},{"m":1.125,"w":0.09375,"v":103},{"m":1.375,"w":0.09375,"v":114},{"m":1.625,"w":0.09375,"v":124},{"m":1.875,"w":0.09375,"v":133},{"m":2.125,"w":0.09375,"v":142},{"m":2.375,"w":0.09375,"v":150},{"m":2.625,"w":0.09375,"v":158},{"m":2.875,"w":0.09375,"v":165},{"m":3.125,"w":0.09375,"v":172},{"m":3.375,"w":0.09375,"v":179},{"m":3.625,"w":0.09375,"v":185},{"m":3.875,"w":0.09375,"v":191},{"m":4.125,"w":0.09375,"v":197},{"m":4.375,"w":0.09375,"v":203},{"m":4.625,"w":0.09375,"v":209},{"m":4.875,"w":0.09375,"v":215},
{"m":0.125,"w":0.15625,"v":57},{"m":0.375,"w":0.15625,"v":99},{"m":0.625,"w":0.15625,"v":128},{"m":0.875,"w":0.15625,"v":152},{"m":1.125,"w":0.15625,"v":172},{"m":1.375,"w":0.15625,"v":190},{"m":1.625,"w":0.15625,"v":207},{"m":1.875,"w":0.15625,"v":222},{"m":2.125,"w":0.15625,"v":236},{"m":2.375,"w":0.15625,"v":250},{"m":2.625,"w":0.15625,"v":263},{"m":2.875,"w":0.15625,"v":275},{"m":3.125,"w":0.15625,"v":286},{"m":3.375,"w":0.15625,"v":298},{"m":3.625,"w":0.15625,"v":309},{"m":3.875,"w":0.15625,"v":319},{"m":4.125,"w":0.15625,"v":329},{"m":4.375,"w":0.15625,"v":339},{"m":4.625,"w":0.15625,"v":349},{"m":4.875,"w":0.15625,"v":358},
{"m":0.125,"w":0.21875,"v":80},{"m":0.375,"w":0.21875,"v":139},{"m":0.625,"w":0.21875,"v":179},{"m":0.875,"w":0.21875,"v":212},{"m":1.125,"w":0.21875,"v":241},{"m":1.375,"w":0.21875,"v":266},{"m":1.625,"w":0.21875,"v":289},{"m":1.875,"w":0.21875,"v":311},{"m":2.125,"w":0.21875,"v":331},{"m":2.375,"w":0.21875,"v":350},{"m":2.625,"w":0.21875,"v":368},{"m":2.875,"w":0.21875,"v":385},{"m":3.125,"w":0.21875,"v":401},{"m":3.375,"w":0.21875,"v":417},{"m":3.625,"w":0.21875,"v":432},{"m":3.875,"w":0.21875,"v":447},{"m":4.125,"w":0.21875,"v":461},{"m":4.375,"w":0.21875,"v":475},{"m":4.625,"w":0.21875,"v":488},{"m":4.875,"w":0.21875,"v":501},
{"m":0.125,"w":0.28125,"v":103},{"m":0.375,"w":0.28125,"v":179},{"m":0.625,"w":0.28125,"v":231},{"m":0.875,"w":0.28125,"v":273},{"m":1.125,"w":0.28125,"v":309},{"m":1.375,"w":0.28125,"v":342},{"m":1.625,"w":0.28125,"v":372},{"m":1.875,"w":0.28125,"v":399},{"m":2.125,"w":0.28125,"v":425},{"m":2.375,"w":0.28125,"v":450},{"m":2.625,"w":0.28125,"v":473},{"m":2.875,"w":0.28125,"v":495},{"m":3.125,"w":0.28125,"v":516},{"m":3.375,"w":0.28125,"v":536},{"m":3.625,"w":0.28125,"v":555},{"m":3.875,"w":0.28125,"v":574},{"m":4.125,"w":0.28125,"v":592},{"m":4.375,"w":0.28125,"v":610},{"m":4.625,"w":0.28125,"v":627},{"m":4.875,"w":0.28125,"v":644},
{"m":0.125,"w":0.34375,"v":126},{"m":0.375,"w":0.34375,"v":218},{"m":0.625,"w":0.34375,"v":282},{"m":0.875,"w":0.34375,"v":334},{"m":1.125,"w":0.34375,"v":378},{"m":1.375,"w":0.34375,"v":418},{"m":1.625,"w":0.34375,"v":455},{"m":1.875,"w":0.34375,"v":488},{"m":2.125,"w":0.34375,"v":520},{"m":2.375,"w":0.34375,"v":549},{"m":2.625,"w":0.34375,"v":578},{"m":2.875,"w":0.34375,"v":604},{"m":3.125,"w":0.34375,"v":630},{"m":3.375,"w":0.34375,"v":655},{"m":3.625,"w":0.34375,"v":679},{"m":3.875,"w":0.34375,"v":702},{"m":4.125,"w":0.34375,"v":724},{"m":4.375,"w":0.34375,"v":746},{"m":4.625,"w":0.34375,"v":767},{"m":4.875,"w":0.34375,"v":787},
{"m":0.125,"w":0.40625,"v":149},{"m":0.375,"w":0.40625,"v":258},{"m":0.625,"w":0.40625,"v":333},{"m":0.875,"w":0.40625,"v":394},{"m":1.125,"w":0.40625,"v":447},{"m":1.375,"w":0.40625,"v":494},{"m":1.625,"w":0.40625,"v":537},{"m":1.875,"w":0.40625,"v":577},{"m":2.125,"w":0.40625,"v":614},{"m":2.375,"w":0.40625,"v":649},{"m":2.625,"w":0.40625,"v":683},{"m":2.875,"w":0.40625,"v":714},{"m":3.125,"w":0.40625,"v":745},{"m":3.375,"w":0.40625,"v":774},{"m":3.625,"w":0.40625,"v":802},{"m":3.875,"w":0.40625,"v":829},{"m":4.125,"w":0.40625,"v":856},{"m":4.375,"w":0.40625,"v":881},{"m":4.625,"w":0.40625,"v":906},{"m":4.875,"w":0.40625,"v":930},
{"m":0.125,"w":0.46875,"v":172},{"m":0.375,"w":0.46875,"v":298},{"m":0.625,"w":0.46875,"v":384},{"m":0.875,"w":0.46875,"v":455},{"m":1.125,"w":0.46875,"v":516},{"m":1.375,"w":0.46875,"v":570},{"m":1.625,"w":0.46875,"v":620},{"m":1.875,"w":0.46875,"v":666},{"m":2.125,"w":0.46875,"v":709},{"m":2.375,"w":0.46875,"v":749},{"m":2.625,"w":0.46875,"v":788},{"m":2.875,"w":0.46875,"v":824},{"m":3.125,"w":0.46875,"v":859},{"m":3.375,"w":0.46875,"v":893},{"m":3.625,"w":0.46875,"v":926},{"m":3.875,"w":0.46875,"v":957},{"m":4.125,"w":0.46875,"v":987},{"m":4.375,"w":0.46875,"v":1017},{"m":4.625,"w":0.46875,"v":1046},{"m":4.875,"w":0.46875,"v":1073},
{"m":0.125,"w":0.53125,"v":195},{"m":0.375,"w":0.53125,"v":337},{"m":0.625,"w":0.53125,"v":436},{"m":0.875,"w":0.53125,"v":515},{"m":1.125,"w":0.53125,"v":584},{"m":1.375,"w":0.53125,"v":646},{"m":1.625,"w":0.53125,"v":702},{"m":1.875,"w":0.53125,"v":754},{"m":2.125,"w":0.53125,"v":803},{"m":2.375,"w":0.53125,"v":849},{"m":2.625,"w":0.53125,"v":893},{"m":2.875,"w":0.53125,"v":934},{"m":3.125,"w":0.53125,"v":974},{"m":3.375,"w":0.53125,"v":1012},{"m":3.625,"w":0.53125,"v":1049},{"m":3.875,"w":0.53125,"v":1085},{"m":4.125,"w":0.53125,"v":1119},{"m":4.375,"w":0.53125,"v":1152},{"m":4.625,"w":0.53125,"v":1185},{"m":4.875,"w":0.53125,"v":1217},
{"m":0.125,"w":0.59375,"v":218},{"m":0.375,"w":0.59375,"v":377},{"m":0.625,"w":0.59375,"v":487},{"m":0.875,"w":0.59375,"v":576},{"m":1.125,"w":0.59375,"v":653},{"m":1.375,"w":0.59375,"v":722},{"m":1.625,"w":0.59375,"v":785},{"m":1.875,"w":0.59375,"v":843},{"m":2.125,"w":0.59375,"v":898},{"m":2.375,"w":0.59375,"v":949},{"m":2.625,"w":0.59375,"v":998},{"m":2.875,"w":0.59375,"v":1044},{"m":3.125,"w":0.59375,"v":1089},{"m":3.375,"w":0.59375,"v":1131},{"m":3.625,"w":0.59375,"v":1172},{"m":3.875,"w":0.59375,"v":1212},{"m":4.125,"w":0.59375,"v":1251},{"m":4.375,"w":0.59375,"v":1288},{"m":4.625,"w":0.59375,"v":1324},{"m":4.875,"w":0.59375,"v":1360},
{"m":0.125,"w":0.65625,"v":241},{"m":0.375,"w":0.65625,"v":417},{"m":0.625,"w":0.65625,"v":538},{"m":0.875,"w":0.65625,"v":637},{"m":1.125,"w":0.65625,"v":722},{"m":1.375,"w":0.65625,"v":798},{"m":1.625,"w":0.65625,"v":868},{"m":1.875,"w":0.65625,"v":932},{"m":2.125,"w":0.65625,"v":992},{"m":2.375,"w":0.65625,"v":1049},{"m":2.625,"w":0.65625,"v":1103},{"m":2.875,"w":0.65625,"v":1154},{"m":3.125,"w":0.65625,"v":1203},{"m":3.375,"w":0.65625,"v":1250},{"m":3.625,"w":0.65625,"v":1296},{"m":3.875,"w":0.65625,"v":1340},{"m":4.125,"w":0.65625,"v":1382},{"m":4.375,"w":0.65625,"v":1424},{"m":4.625,"w":0.65625,"v":1464},{"m":4.875,"w":0.65625,"v":1503},
{"m":0.125,"w":0.71875,"v":264},{"m":0.375,"w":0.71875,"v":457},{"m":0.625,"w":0.71875,"v":589},{"m":0.875,"w":0.71875,"v":697},{"m":1.125,"w":0.71875,"v":791},{"m":1.375,"w":0.71875,"v":874},{"m":1.625,"w":0.71875,"v":950},{"m":1.875,"w":0.71875,"v":1021},{"m":2.125,"w":0.71875,"v":1087},{"m":2.375,"w":0.71875,"v":1149},{"m":2.625,"w":0.71875,"v":1208},{"m":2.875,"w":0.71875,"v":1264},{"m":3.125,"w":0.71875,"v":1318},{"m":3.375,"w":0.71875,"v":1369},{"m":3.625,"w":0.71875,"v":1419},{"m":3.875,"w":0.71875,"v":1467},{"m":4.125,"w":0.71875,"v":1514},{"m":4.375,"w":0.71875,"v":1559},{"m":4.625,"w":0.71875,"v":1603},{"m":4.875,"w":0.71875,"v":1646},
{"m":0.125,"w":0.78125,"v":287},{"m":0.375,"w":0.78125,"v":496},{"m":0.625,"w":0.78125,"v":641},{"m":0.875,"w":0.78125,"v":758},{"m":1.125,"w":0.78125,"v":860},{"m":1.375,"w":0.78125,"v":950},{"m":1.625,"w":0.78125,"v":1033},{"m":1.875,"w":0.78125,"v":1110},{"m":2.125,"w":0.78125,"v":1181},{"m":2.375,"w":0.78125,"v":1249},{"m":2.625,"w":0.78125,"v":1313},{"m":2.875,"w":0.78125,"v":1374},{"m":3.125,"w":0.78125,"v":1432},{"m":3.375,"w":0.78125,"v":1489},{"m":3.625,"w":0.78125,"v":1543},{"m":3.875,"w":0.78125,"v":1595},{"m":4.125,"w":0.78125,"v":1646},{"m":4.375,"w":0.78125,"v":1695},{"m":4.625,"w":0.78125,"v":1743},{"m":4.875,"w":0.78125,"v":1789},
{"m":0.125,"w":0.84375,"v":309},{"m":0.375,"w":0.84375,"v":536},{"m":0.625,"w":0.84375,"v":692},{"m":0.875,"w":0.84375,"v":819},{"m":1.125,"w":0.84375,"v":928},{"m":1.375,"w":0.84375,"v":1026},{"m":1.625,"w":0.84375,"v":1116},{"m":1.875,"w":0.84375,"v":1198},{"m":2.125,"w":0.84375,"v":1275},{"m":2.375,"w":0.84375,"v":1349},{"m":2.625,"w":0.84375,"v":1418},{"m":2.875,"w":0.84375,"v":1484},{"m":3.125,"w":0.84375,"v":1547},{"m":3.375,"w":0.84375,"v":1608},{"m":3.625,"w":0.84375,"v":1666},{"m":3.875,"w":0.84375,"v":1723},{"m":4.125,"w":0.84375,"v":1777},{"m":4.375,"w":0.84375,"v":1830},{"m":4.625,"w":0.84375,"v":1882},{"m":4.875,"w":0.84375,"v":1932},
{"m":0.125,"w":0.90625,"v":332},{"m":0.375,"w":0.90625,"v":576},{"m":0.625,"w":0.90625,"v":743},{"m":0.875,"w":0.90625,"v":879},{"m":1.125,"w":0.90625,"v":997},{"m":1.375,"w":0.90625,"v":1102},{"m":1.625,"w":0.90625,"v":1198},{"m":1.875,"w":0.90625,"v":1287},{"m":2.125,"w":0.90625,"v":1370},{"m":2.375,"w":0.90625,"v":1449},{"m":2.625,"w":0.90625,"v":1523},{"m":2.875,"w":0.90625,"v":1594},{"m":3.125,"w":0.90625,"v":1661},{"m":3.375,"w":0.90625,"v":1727},{"m":3.625,"w":0.90625,"v":1790},{"m":3.875,"w":0.90625,"v":1850},{"m":4.125,"w":0.90625,"v":1909},{"m":4.375,"w":0.90625,"v":1966},{"m":4.625,"w":0.90625,"v":2021},{"m":4.875,"w":0.90625,"v":2075},
{"m":0.125,"w":0.96875,"v":355},{"m":0.375,"w":0.96875,"v":615},{"m":0.625,"w":0.96875,"v":794},{"m":0.875,"w":0.96875,"v":940},{"m":1.125,"w":0.96875,"v":1066},{"m":1.375,"w":0.96875,"v":1178},{"m":1.625,"w":0.96875,"v":1281},{"m":1.875,"w":0.96875,"v":1376},{"m":2.125,"w":0.96875,"v":1464},{"m":2.375,"w":0.96875,"v":1548},{"m":2.625,"w":0.96875,"v":1628},{"m":2.875,"w":0.96875,"v":1703},{"m":3.125,"w":0.96875,"v":1776},{"m":3.375,"w":0.96875,"v":1846},{"m":3.625,"w":0.96875,"v":1913},{"m":3.875,"w":0.96875,"v":1978},{"m":4.125,"w":0.96875,"v":2040},{"m":4.375,"w":0.96875,"v":2101},{"m":4.625,"w":0.96875,"v":2161},{"m":4.875,"w":0.96875,"v":2218},
{"m":0.125,"w":1.03125,"v":378},{"m":0.375,"w":1.03125,"v":655},{"m":0.625,"w":1.03125,"v":845},{"m":0.875,"w":1.03125,"v":1001},{"m":1.125,"w":1.03125,"v":1135},{"m":1.375,"w":1.03125,"v":1254},{"m":1.625,"w":1.03125,"v":1364},{"m":1.875,"w":1.03125,"v":1465},{"m":2.125,"w":1.03125,"v":1559},{"m":2.375,"w":1.03125,"v":1648},{"m":2.625,"w":1.03125,"v":1733},{"m":2.875,"w":1.03125,"v":1813},{"m":3.125,"w":1.03125,"v":1891},{"m":3.375,"w":1.03125,"v":1965},{"m":3.625,"w":1.03125,"v":2036},{"m":3.875,"w":1.03125,"v":2105},{"m":4.125,"w":1.03125,"v":2172},{"m":4.375,"w":1.03125,"v":2237},{"m":4.625,"w":1.03125,"v":2300},{"m":4.875,"w":1.03125,"v":2361},
{"m":0.125,"w":1.09375,"v":401},{"m":0.375,"w":1.09375,"v":695},{"m":0.625,"w":1.09375,"v":897},{"m":0.875,"w":1.09375,"v":1061},{"m":1.125,"w":1.09375,"v":1203},{"m":1.375,"w":1.09375,"v":1330},{"m":1.625,"w":1.09375,"v":1446},{"m":1.875,"w":1.09375,"v":1553},{"m":2.125,"w":1.09375,"v":1653},{"m":2.375,"w":1.09375,"v":1748},{"m":2.625,"w":1.09375,"v":1838},{"m":2.875,"w":1.09375,"v":1923},{"m":3.125,"w":1.09375,"v":2005},{"m":3.375,"w":1.09375,"v":2084},{"m":3.625,"w":1.09375,"v":2160},{"m":3.875,"w":1.09375,"v":2233},{"m":4.125,"w":1.09375,"v":2304},{"m":4.375,"w":1.09375,"v":2373},
{"m":0.125,"w":1.15625,"v":424},{"m":0.375,"w":1.15625,"v":734},{"m":0.625,"w":1.15625,"v":948},{"m":0.875,"w":1.15625,"v":1122},{"m":1.125,"w":1.15625,"v":1272},{"m":1.375,"w":1.15625,"v":1406},{"m":1.625,"w":1.15625,"v":1529},{"m":1.875,"w":1.15625,"v":1642},{"m":2.125,"w":1.15625,"v":1748},{"m":2.375,"w":1.15625,"v":1848},{"m":2.625,"w":1.15625,"v":1943},{"m":2.875,"w":1.15625,"v":2033},{"m":3.125,"w":1.15625,"v":2120},{"m":3.375,"w":1.15625,"v":2203},{"m":3.625,"w":1.15625,"v":2283},{"m":3.875,"w":1.15625,"v":2361},
{"m":0.125,"w":1.21875,"v":447},{"m":0.375,"w":1.21875,"v":774},{"m":0.625,"w":1.21875,"v":999},{"m":0.875,"w":1.21875,"v":1182},{"m":1.125,"w":1.21875,"v":1341},{"m":1.375,"w":1.21875,"v":1482},{"m":1.625,"w":1.21875,"v":1611},{"m":1.875,"w":1.21875,"v":1731},{"m":2.125,"w":1.21875,"v":1842},{"m":2.375,"w":1.21875,"v":1948},{"m":2.625,"w":1.21875,"v":2048},{"m":2.875,"w":1.21875,"v":2143},{"m":3.125,"w":1.21875,"v":2234},{"m":3.375,"w":1.21875,"v":2322},
{"m":0.125,"w":1.28125,"v":470},{"m":0.375,"w":1.28125,"v":814},{"m":0.625,"w":1.28125,"v":1050},{"m":0.875,"w":1.28125,"v":1243},{"m":1.125,"w":1.28125,"v":1410},{"m":1.375,"w":1.28125,"v":1558},{"m":1.625,"w":1.28125,"v":1694},{"m":1.875,"w":1.28125,"v":1820},{"m":2.125,"w":1.28125,"v":1937},{"m":2.375,"w":1.28125,"v":2048},{"m":2.625,"w":1.28125,"v":2153},{"m":2.875,"w":1.28125,"v":2253},{"m":3.125,"w":1.28125,"v":2349},
{"m":0.125,"w":1.34375,"v":493},{"m":0.375,"w":1.34375,"v":854},{"m":0.625,"w":1.34375,"v":1102},{"m":0.875,"w":1.34375,"v":1304},{"m":1.125,"w":1.34375,"v":1478},{"m":1.375,"w":1.34375,"v":1634},{"m":1.625,"w":1.34375,"v":1777},{"m":1.875,"w":1.34375,"v":1908},{"m":2.125,"w":1.34375,"v":2031},{"m":2.375,"w":1.34375,"v":2148},{"m":2.625,"w":1.34375,"v":2258},{"m":2.875,"w":1.34375,"v":2363},
{"m":0.125,"w":1.40625,"v":516},{"m":0.375,"w":1.40625,"v":893},{"m":0.625,"w":1.40625,"v":1153},{"m":0.875,"w":1.40625,"v":1364},{"m":1.125,"w":1.40625,"v":1547},{"m":1.375,"w":1.40625,"v":1710},{"m":1.625,"w":1.40625,"v":1859},{"m":1.875,"w":1.40625,"v":1997},{"m":2.125,"w":1.40625,"v":2126},{"m":2.375,"w":1.40625,"v":2248},{"m":2.625,"w":1.40625,"v":2363},
{"m":0.125,"w":1.46875,"v":539},{"m":0.375,"w":1.46875,"v":933},{"m":0.625,"w":1.46875,"v":1204},{"m":0.875,"w":1.46875,"v":1425},{"m":1.125,"w":1.46875,"v":1616},{"m":1.375,"w":1.46875,"v":1786},{"m":1.625,"w":1.46875,"v":1942},{"m":1.875,"w":1.46875,"v":2086},{"m":2.125,"w":1.46875,"v":2220},{"m":2.375,"w":1.46875,"v":2348},
{"m":0.125,"w":1.53125,"v":562},{"m":0.375,"w":1.53125,"v":973},{"m":0.625,"w":1.53125,"v":1255},{"m":0.875,"w":1.53125,"v":1486},{"m":1.125,"w":1.53125,"v":1685},{"m":1.375,"w":1.53125,"v":1862},{"m":1.625,"w":1.53125,"v":2025},{"m":1.875,"w":1.53125,"v":2175},{"m":2.125,"w":1.53125,"v":2315},
{"m":0.125,"w":1.59375,"v":584},{"m":0.375,"w":1.59375,"v":1012},{"m":0.625,"w":1.59375,"v":1307},{"m":0.875,"w":1.59375,"v":1546},{"m":1.125,"w":1.59375,"v":1753},{"m":1.375,"w":1.59375,"v":1938},{"m":1.625,"w":1.59375,"v":2107},{"m":1.875,"w":1.59375,"v":2263},
{"m":0.125,"w":1.65625,"v":607},{"m":0.375,"w":1.65625,"v":1052},{"m":0.625,"w":1.65625,"v":1358},{"m":0.875,"w":1.65625,"v":1607},{"m":1.125,"w":1.65625,"v":1822},{"m":1.375,"w":1.65625,"v":2014},{"m":1.625,"w":1.65625,"v":2190},{"m":1.875,"w":1.65625,"v":2352},
{"m":0.125,"w":1.71875,"v":630},{"m":0.375,"w":1.71875,"v":1092},{"m":0.625,"w":1.71875,"v":1409},{"m":0.875,"w":1.71875,"v":1668},{"m":1.125,"w":1.71875,"v":1891},{"m":1.375,"w":1.71875,"v":2090},{"m":1.625,"w":1.71875,"v":2273},
{"m":0.125,"w":1.78125,"v":653},{"m":0.375,"w":1.78125,"v":1131},{"m":0.625,"w":1.78125,"v":1460},{"m":0.875,"w":1.78125,"v":1728},{"m":1.125,"w":1.78125,"v":1960},{"m":1.375,"w":1.78125,"v":2166},{"m":1.625,"w":1.78125,"v":2355},
{"m":0.125,"w":1.84375,"v":676},{"m":0.375,"w":1.84375,"v":1171},{"m":0.625,"w":1.84375,"v":1512},{"m":0.875,"w":1.84375,"v":1789},{"m":1.125,"w":1.84375,"v":2028},{"m":1.375,"w":1.84375,"v":2242},
{"m":0.125,"w":1.90625,"v":699},{"m":0.375,"w":1.90625,"v":1211},{"m":0.625,"w":1.90625,"v":1563},{"m":0.875,"w":1.90625,"v":1850},{"m":1.125,"w":1.90625,"v":2097},{"m":1.375,"w":1.90625,"v":2318},
{"m":0.125,"w":1.96875,"v":722},{"m":0.375,"w":1.96875,"v":1251},{"m":0.625,"w":1.96875,"v":1614},{"m":0.875,"w":1.96875,"v":1910},{"m":1.125,"w":1.96875,"v":2166},{"m":1.375,"w":1.96875,"v":2394}
 ],
 "lc": [
{"n":1,"m":0.00945,"w":2},{"n":1,"m":0.015,"w":1.587},{"n":1,"m":0.025,"w":1.2296},{"n":1,"m":0.05,"w":0.869},{"n":1,"m":0.1,"w":0.615},{"n":1,"m":0.2,"w":0.4347},{"n":1,"m":0.4,"w":0.3074},{"n":1,"m":0.8,"w":0.2174},{"n":1,"m":1.5,"w":0.1587},{"n":1,"m":2.5,"w":0.123},{"n":1,"m":3.5,"w":0.1039},{"n":1,"m":5,"w":0.0869},
{"n":2,"m":0.0378,"w":2},{"n":2,"m":0.05,"w":1.739},{"n":2,"m":0.075,"w":1.42},{"n":2,"m":0.12,"w":1.122},{"n":2,"m":0.2,"w":0.869},{"n":2,"m":0.35,"w":0.657},{"n":2,"m":0.6,"w":0.502},{"n":2,"m":1,"w":0.389},{"n":2,"m":1.6,"w":0.307},{"n":2,"m":2.5,"w":0.246},{"n":2,"m":3.5,"w":0.208},{"n":2,"m":5,"w":0.174},
{"n":3,"m":0.085,"w":2},{"n":3,"m":0.11,"w":1.758},{"n":3,"m":0.16,"w":1.458},{"n":3,"m":0.25,"w":1.166},{"n":3,"m":0.4,"w":0.922},{"n":3,"m":0.65,"w":0.723},{"n":3,"m":1,"w":0.583},{"n":3,"m":1.6,"w":0.461},{"n":3,"m":2.5,"w":0.369},{"n":3,"m":3.5,"w":0.312},{"n":3,"m":5,"w":0.261},
{"n":4,"m":0.1512,"w":2},{"n":4,"m":0.2,"w":1.739},{"n":4,"m":0.28,"w":1.47},{"n":4,"m":0.4,"w":1.229},{"n":4,"m":0.6,"w":1.004},{"n":4,"m":0.9,"w":0.82},{"n":4,"m":1.3,"w":0.682},{"n":4,"m":1.9,"w":0.564},{"n":4,"m":2.7,"w":0.473},{"n":4,"m":3.7,"w":0.404},{"n":4,"m":5,"w":0.348},
{"n":5,"m":0.2362,"w":2},{"n":5,"m":0.3,"w":1.775},{"n":5,"m":0.42,"w":1.5},{"n":5,"m":0.6,"w":1.255},{"n":5,"m":0.85,"w":1.054},{"n":5,"m":1.2,"w":0.887},{"n":5,"m":1.7,"w":0.746},{"n":5,"m":2.4,"w":0.627},{"n":5,"m":3.4,"w":0.527},{"n":5,"m":5,"w":0.435},
{"n":6,"m":0.3402,"w":2},{"n":6,"m":0.43,"w":1.779},{"n":6,"m":0.57,"w":1.545},{"n":6,"m":0.8,"w":1.304},{"n":6,"m":1.1,"w":1.112},{"n":6,"m":1.5,"w":0.952},{"n":6,"m":2.1,"w":0.805},{"n":6,"m":2.9,"w":0.685},{"n":6,"m":3.9,"w":0.591},{"n":6,"m":5,"w":0.522},
{"n":7,"m":0.463,"w":2},{"n":7,"m":0.58,"w":1.787},{"n":7,"m":0.75,"w":1.571},{"n":7,"m":1,"w":1.361},{"n":7,"m":1.35,"w":1.171},{"n":7,"m":1.8,"w":1.014},{"n":7,"m":2.4,"w":0.878},{"n":7,"m":3.2,"w":0.761},{"n":7,"m":4.1,"w":0.672},{"n":7,"m":5,"w":0.609},
{"n":8,"m":0.6048,"w":2},{"n":8,"m":0.75,"w":1.796},{"n":8,"m":0.95,"w":1.596},{"n":8,"m":1.25,"w":1.391},{"n":8,"m":1.65,"w":1.211},{"n":8,"m":2.2,"w":1.049},{"n":8,"m":2.9,"w":0.913},{"n":8,"m":3.8,"w":0.798},{"n":8,"m":5,"w":0.696},
{"n":9,"m":0.7654,"w":2},{"n":9,"m":0.95,"w":1.795},{"n":9,"m":1.2,"w":1.597},{"n":9,"m":1.55,"w":1.405},{"n":9,"m":2,"w":1.237},{"n":9,"m":2.6,"w":1.085},{"n":9,"m":3.4,"w":0.949},{"n":9,"m":4.2,"w":0.854},{"n":9,"m":5,"w":0.782},
{"n":10,"m":0.9449,"w":2},{"n":10,"m":1.15,"w":1.813},{"n":10,"m":1.45,"w":1.614},{"n":10,"m":1.85,"w":1.429},{"n":10,"m":2.4,"w":1.255},{"n":10,"m":3.1,"w":1.104},{"n":10,"m":4,"w":0.972},{"n":10,"m":5,"w":0.869},
{"n":11,"m":1.1433,"w":2},{"n":11,"m":1.4,"w":1.807},{"n":11,"m":1.75,"w":1.617},{"n":11,"m":2.2,"w":1.442},{"n":11,"m":2.8,"w":1.278},{"n":11,"m":3.6,"w":1.127},{"n":11,"m":4.3,"w":1.031},{"n":11,"m":5,"w":0.956},
{"n":12,"m":1.3606,"w":2},{"n":12,"m":1.65,"w":1.816},{"n":12,"m":2.05,"w":1.629},{"n":12,"m":2.6,"w":1.447},{"n":12,"m":3.3,"w":1.284},{"n":12,"m":4.1,"w":1.152},{"n":12,"m":5,"w":1.043},
{"n":13,"m":1.5968,"w":2},{"n":13,"m":1.95,"w":1.81},{"n":13,"m":2.4,"w":1.631},{"n":13,"m":3,"w":1.459},{"n":13,"m":3.7,"w":1.314},{"n":13,"m":4.4,"w":1.205},{"n":13,"m":5,"w":1.13},
{"n":14,"m":1.8519,"w":2},{"n":14,"m":2.25,"w":1.814},{"n":14,"m":2.75,"w":1.641},{"n":14,"m":3.4,"w":1.476},{"n":14,"m":4.2,"w":1.328},{"n":14,"m":5,"w":1.217},
{"n":15,"m":2.126,"w":2},{"n":15,"m":2.55,"w":1.826},{"n":15,"m":3.1,"w":1.656},{"n":15,"m":3.8,"w":1.496},{"n":15,"m":4.4,"w":1.39},{"n":15,"m":5,"w":1.304},
{"n":16,"m":2.419,"w":2},{"n":16,"m":2.9,"w":1.827},{"n":16,"m":3.5,"w":1.663},{"n":16,"m":4.2,"w":1.518},{"n":16,"m":5,"w":1.391},
{"n":17,"m":2.731,"w":2},{"n":17,"m":3.25,"w":1.833},{"n":17,"m":3.9,"w":1.674},{"n":17,"m":4.5,"w":1.558},{"n":17,"m":5,"w":1.478},
{"n":18,"m":3.0614,"w":2},{"n":18,"m":3.6,"w":1.844},{"n":18,"m":4.2,"w":1.708},{"n":18,"m":5,"w":1.565},
{"n":19,"m":3.411,"w":2},{"n":19,"m":3.9,"w":1.87},{"n":19,"m":4.4,"w":1.761},{"n":19,"m":5,"w":1.652},
{"n":20,"m":3.7796,"w":2},{"n":20,"m":4.2,"w":1.897},{"n":20,"m":4.6,"w":1.813},{"n":20,"m":5,"w":1.739},
{"n":21,"m":4.167,"w":2},{"n":21,"m":4.55,"w":1.914},{"n":21,"m":5,"w":1.826},
{"n":22,"m":4.573,"w":2},{"n":22,"m":4.8,"w":1.952},{"n":22,"m":5,"w":1.913}
 ],
 "cga": [
{"y":1520,"y2":1542},{"y":1542,"y2":1564},{"y":1564,"y2":1586},{"y":1586,"y2":1608},{"y":1608,"y2":1630},{"y":1630,"y2":1652},{"y":1652,"y2":1674},{"y":1674,"y2":1696},{"y":1696,"y2":1718},{"y":1718,"y2":1740},{"y":1740,"y2":1762},{"y":1762,"y2":1784},{"y":1784,"y2":1806},{"y":1806,"y2":1828},{"y":1828,"y2":1850},{"y":1850,"y2":1872},{"y":1872,"y2":1894},{"y":1894,"y2":1916},{"y":1916,"y2":1938},{"y":1938,"y2":1960},{"y":1960,"y2":1982},{"y":1982,"y2":2004},{"y":2004,"y2":2026},{"y":2026,"y2":2048},{"y":2048,"y2":2070},{"y":2070,"y2":2092},{"y":2092,"y2":2114},{"y":2114,"y2":2136},{"y":2136,"y2":2158},{"y":2158,"y2":2180},{"y":2180,"y2":2202},{"y":2202,"y2":2224},{"y":2224,"y2":2246},{"y":2246,"y2":2268},{"y":2268,"y2":2290},{"y":2290,"y2":2312},{"y":2312,"y2":2334},{"y":2334,"y2":2356},{"y":2356,"y2":2378},{"y":2378,"y2":2400},{"y":2400,"y2":2814}
 ],
 "cgb": [
{"y":0,"y2":60},{"y":60,"y2":120},{"y":120,"y2":180},{"y":180,"y2":240},{"y":240,"y2":300},{"y":300,"y2":360},{"y":360,"y2":420},{"y":420,"y2":480},{"y":480,"y2":540},{"y":540,"y2":600},{"y":600,"y2":660},{"y":660,"y2":720},{"y":720,"y2":780},{"y":780,"y2":840},{"y":840,"y2":900},{"y":900,"y2":960},{"y":960,"y2":1020},{"y":1020,"y2":1080},{"y":1080,"y2":1140},{"y":1140,"y2":1200},{"y":1200,"y2":1260},{"y":1260,"y2":1320},{"y":1320,"y2":1380},{"y":1380,"y2":1440},{"y":1440,"y2":1500},{"y":1500,"y2":1560},{"y":1560,"y2":1620},{"y":1620,"y2":1680},{"y":1680,"y2":1740},{"y":1740,"y2":1800},{"y":1800,"y2":1860},{"y":1860,"y2":1920},{"y":1920,"y2":1980},{"y":1980,"y2":2040},{"y":2040,"y2":2100},{"y":2100,"y2":2160},{"y":2160,"y2":2220},{"y":2220,"y2":2280},{"y":2280,"y2":2340},{"y":2340,"y2":2400}
 ]
},
"resolve": {"scale": {"color": "independent", "stroke": "independent"}, "legend": {"color": "independent", "stroke": "independent"}},
"spacing": 26,
"vconcat": [
 {
  "resolve": {"scale": {"color": "independent", "stroke": "independent"}, "legend": {"color": "independent", "stroke": "independent"}},
  "spacing": 24,
  "hconcat": [
   {
    "resolve": {"scale": {"color": "independent", "stroke": "independent"}, "legend": {"color": "independent", "stroke": "independent"}},
    "spacing": 18,
    "bounds": "flush",
    "title": {"text": "(a)  Initial deflection qc⁰ vs. Robot stiffness kR", "orient": "bottom", "offset": 16, "anchor": "middle", "dx": 13},
    "hconcat": [
     {
      "width": 300, "height": 246,
      "layer": [
       {"data": {"name": "fa"}, "mark": "rect",
        "encoding": {
         "x": {"field": "x0", "type": "quantitative", "scale": {"domain": [0, 1000], "nice": false, "zero": false}, "axis": {"values": [0, 200, 400, 600, 800, 1000], "format": "d", "title": "Robot stiffness kR [N/m]"}},
         "x2": {"field": "x1"},
         "y": {"field": "y0", "type": "quantitative", "scale": {"domain": [-0.1, 0.1], "nice": false, "zero": false}, "axis": {"values": [-0.1, -0.075, -0.05, -0.025, 0, 0.025, 0.05, 0.075, 0.1], "format": ".3f", "title": "Initial deflection qc⁰ [m]"}},
         "y2": {"field": "y1"},
         "color": {"field": "v", "type": "quantitative", "legend": null, "scale": {"domain": [1520,1575,1630,1685,1740,1795,1850,1905,1960,2015,2070,2125,2180,2235,2290,2345,2400], "range": ["#3b4cc0","#4d68d7","#6282ea","#779af7","#8db0fe","#a3c2ff","#b8d0f9","#ccd9ee","#dddddd","#ecd3c5","#f5c4ad","#f7b194","#f49a7b","#ec7f63","#de604d","#cb3e38","#b40426"], "clamp": true, "interpolate": "rgb", "zero": false, "nice": false}}}},
       {"data": {"name": "ha"}, "mark": {"type": "rect", "strokeWidth": 0.6},
        "encoding": {
         "x": {"field": "k", "type": "quantitative", "bin": {"step": 50, "extent": [0, 1000]}, "scale": {"domain": [0, 1000], "nice": false, "zero": false}, "axis": {"values": [0, 200, 400, 600, 800, 1000], "format": "d", "title": "Robot stiffness kR [N/m]"}},
         "y": {"field": "q", "type": "quantitative", "bin": {"step": 0.00625, "extent": [-0.1, 0.1]}, "scale": {"domain": [-0.1, 0.1], "nice": false, "zero": false}, "axis": {"values": [-0.1, -0.075, -0.05, -0.025, 0, 0.025, 0.05, 0.075, 0.1], "format": ".3f", "title": "Initial deflection qc⁰ [m]"}},
         "color": {"field": "v", "type": "quantitative", "legend": null, "scale": {"domain": [1520,1575,1630,1685,1740,1795,1850,1905,1960,2015,2070,2125,2180,2235,2290,2345,2400], "range": ["#3b4cc0","#4d68d7","#6282ea","#779af7","#8db0fe","#a3c2ff","#b8d0f9","#ccd9ee","#dddddd","#ecd3c5","#f5c4ad","#f7b194","#f49a7b","#ec7f63","#de604d","#cb3e38","#b40426"], "clamp": true, "interpolate": "rgb", "zero": false, "nice": false}},
         "stroke": {"field": "v", "type": "quantitative", "legend": null, "scale": {"domain": [1520,1575,1630,1685,1740,1795,1850,1905,1960,2015,2070,2125,2180,2235,2290,2345,2400], "range": ["#3b4cc0","#4d68d7","#6282ea","#779af7","#8db0fe","#a3c2ff","#b8d0f9","#ccd9ee","#dddddd","#ecd3c5","#f5c4ad","#f7b194","#f49a7b","#ec7f63","#de604d","#cb3e38","#b40426"], "clamp": true, "interpolate": "rgb", "zero": false, "nice": false}}}},
       {"data": {"name": "ra"}, "mark": {"type": "area", "color": "#b40426", "interpolate": "monotone", "clip": true},
        "encoding": {
         "x": {"field": "k", "type": "quantitative", "scale": {"domain": [0, 1000], "nice": false, "zero": false}, "axis": {"values": [0, 200, 400, 600, 800, 1000], "format": "d", "title": "Robot stiffness kR [N/m]"}},
         "y": {"field": "lo", "type": "quantitative", "scale": {"domain": [-0.1, 0.1], "nice": false, "zero": false}, "axis": {"values": [-0.1, -0.075, -0.05, -0.025, 0, 0.025, 0.05, 0.075, 0.1], "format": ".3f", "title": "Initial deflection qc⁰ [m]"}},
         "y2": {"field": "hi"}}},
       {"data": {"name": "la"}, "mark": {"type": "line", "color": "#000000", "strokeWidth": 1.8, "interpolate": "monotone", "clip": true},
        "encoding": {
         "x": {"field": "k", "type": "quantitative", "scale": {"domain": [0, 1000], "nice": false, "zero": false}, "axis": {"values": [0, 200, 400, 600, 800, 1000], "format": "d", "title": "Robot stiffness kR [N/m]"}},
         "y": {"field": "q", "type": "quantitative", "scale": {"domain": [-0.1, 0.1], "nice": false, "zero": false}, "axis": {"values": [-0.1, -0.075, -0.05, -0.025, 0, 0.025, 0.05, 0.075, 0.1], "format": ".3f", "title": "Initial deflection qc⁰ [m]"}},
         "detail": {"field": "n", "type": "nominal"}}},
       {"data": {"name": "fa"}, "mark": {"type": "rect", "fillOpacity": 0, "stroke": "#000000", "strokeWidth": 1},
        "encoding": {
         "x": {"field": "x0", "type": "quantitative", "scale": {"domain": [0, 1000], "nice": false, "zero": false}, "axis": {"values": [0, 200, 400, 600, 800, 1000], "format": "d", "title": "Robot stiffness kR [N/m]"}},
         "x2": {"field": "x1"},
         "y": {"field": "y0", "type": "quantitative", "scale": {"domain": [-0.1, 0.1], "nice": false, "zero": false}, "axis": {"values": [-0.1, -0.075, -0.05, -0.025, 0, 0.025, 0.05, 0.075, 0.1], "format": ".3f", "title": "Initial deflection qc⁰ [m]"}},
         "y2": {"field": "y1"}}}
      ]
     },
     {
      "width": 13, "height": 246,
      "encoding": {"y": {"field": "y", "type": "quantitative", "scale": {"domain": [1520, 2814], "nice": false, "zero": false}, "axis": {"orient": "right", "values": [1520,1656,1792,1928,2064,2200,2336,2472,2608,2744], "format": "d", "grid": false, "tickSize": 4, "labelPadding": 3, "title": "Injury Severity Criterion SRISC [kPa]", "titleAngle": 270, "titleBaseline": "top", "titlePadding": 6}}},
      "layer": [
       {"data": {"name": "cga"}, "mark": "rect",
        "encoding": {"y2": {"field": "y2"}, "color": {"field": "y", "type": "quantitative", "legend": null, "scale": {"domain": [1520,1575,1630,1685,1740,1795,1850,1905,1960,2015,2070,2125,2180,2235,2290,2345,2400], "range": ["#3b4cc0","#4d68d7","#6282ea","#779af7","#8db0fe","#a3c2ff","#b8d0f9","#ccd9ee","#dddddd","#ecd3c5","#f5c4ad","#f7b194","#f49a7b","#ec7f63","#de604d","#cb3e38","#b40426"], "clamp": true, "interpolate": "rgb", "zero": false, "nice": false}}}},
       {"data": {"values": [{"y": 2400, "lab": "↑ Unsafe"}]}, "mark": {"type": "rule", "strokeWidth": 2.5},
        "encoding": {"stroke": {"field": "lab", "type": "nominal", "scale": {"range": ["#ff0000"]}, "legend": {"legendX": -93, "legendY": 5}}}},
       {"data": {"values": [{"y": 1520, "y2": 2814}]}, "mark": {"type": "rect", "fillOpacity": 0, "stroke": "#000000", "strokeWidth": 1},
        "encoding": {"y2": {"field": "y2"}}}
      ]
     }
    ]
   },
   {
    "resolve": {"scale": {"color": "independent", "stroke": "independent"}, "legend": {"color": "independent", "stroke": "independent"}},
    "spacing": 19,
    "bounds": "flush",
    "title": {"text": "(b)  Contact stiffness kc vs. robot stiffness kR", "orient": "bottom", "offset": 16, "anchor": "middle"},
    "hconcat": [
     {
      "width": 307, "height": 246,
      "layer": [
       {"data": {"name": "bb"}, "mark": {"type": "area", "interpolate": "linear"},
        "encoding": {
         "x": {"field": "k", "type": "quantitative", "scale": {"domain": [0, 500], "nice": false, "zero": false}, "axis": {"values": [0, 100, 200, 300, 400, 500], "format": "d", "title": "Robot stiffness kR [N/m]"}},
         "y": {"field": "lo", "type": "quantitative", "scale": {"domain": [0, 70000], "nice": false, "zero": false}, "axis": {"values": [10000, 20000, 30000, 40000, 50000, 60000, 70000], "format": "d", "title": "Contact stiffness kc [N/m]"}},
         "y2": {"field": "hi"},
         "detail": {"field": "b", "type": "nominal"},
         "color": {"field": "v", "type": "quantitative", "legend": null, "scale": {"domain": [0,150,300,450,600,750,900,1050,1200,1350,1500,1650,1800,1950,2100,2250,2400], "range": ["#3b4cc0","#4d68d7","#6282ea","#779af7","#8db0fe","#a3c2ff","#b8d0f9","#ccd9ee","#dddddd","#ecd3c5","#f5c4ad","#f7b194","#f49a7b","#ec7f63","#de604d","#cb3e38","#b40426"], "clamp": true, "interpolate": "rgb", "zero": false, "nice": false}}}},
       {"data": {"name": "lb"}, "mark": {"type": "line", "color": "#000000", "strokeWidth": 1.8, "clip": true},
        "encoding": {
         "x": {"field": "k", "type": "quantitative", "scale": {"domain": [0, 500], "nice": false, "zero": false}, "axis": {"values": [0, 100, 200, 300, 400, 500], "format": "d", "title": "Robot stiffness kR [N/m]"}},
         "y": {"field": "c", "type": "quantitative", "scale": {"domain": [0, 70000], "nice": false, "zero": false}, "axis": {"values": [10000, 20000, 30000, 40000, 50000, 60000, 70000], "format": "d", "title": "Contact stiffness kc [N/m]"}},
         "detail": {"field": "n", "type": "nominal"}}},
       {"data": {"name": "fb"}, "mark": {"type": "rect", "fillOpacity": 0, "stroke": "#000000", "strokeWidth": 1},
        "encoding": {
         "x": {"field": "x0", "type": "quantitative", "scale": {"domain": [0, 500], "nice": false, "zero": false}, "axis": {"values": [0, 100, 200, 300, 400, 500], "format": "d", "title": "Robot stiffness kR [N/m]"}},
         "x2": {"field": "x1"},
         "y": {"field": "y0", "type": "quantitative", "scale": {"domain": [0, 70000], "nice": false, "zero": false}, "axis": {"values": [10000, 20000, 30000, 40000, 50000, 60000, 70000], "format": "d", "title": "Contact stiffness kc [N/m]"}},
         "y2": {"field": "y1"}}}
      ]
     },
     {
      "width": 13, "height": 246,
      "encoding": {"y": {"field": "y", "type": "quantitative", "scale": {"domain": [0, 2990], "nice": false, "zero": false}, "axis": {"orient": "right", "values": [0,315,630,945,1260,1575,1890,2205,2520,2835], "format": "d", "grid": false, "tickSize": 4, "labelPadding": 3, "title": "Injury Severity Criterion SRISC [kPa]", "titleAngle": 270, "titleBaseline": "top", "titlePadding": 6}}},
      "layer": [
       {"data": {"name": "cgb"}, "mark": "rect",
        "encoding": {"y2": {"field": "y2"}, "color": {"field": "y", "type": "quantitative", "legend": null, "scale": {"domain": [0,150,300,450,600,750,900,1050,1200,1350,1500,1650,1800,1950,2100,2250,2400], "range": ["#3b4cc0","#4d68d7","#6282ea","#779af7","#8db0fe","#a3c2ff","#b8d0f9","#ccd9ee","#dddddd","#ecd3c5","#f5c4ad","#f7b194","#f49a7b","#ec7f63","#de604d","#cb3e38","#b40426"], "clamp": true, "interpolate": "rgb", "zero": false, "nice": false}}}},
       {"data": {"values": [{"y": 2400, "y2": 2990}]}, "mark": {"type": "rect", "color": "#b40426"},
        "encoding": {"y2": {"field": "y2"}}},
       {"data": {"values": [{"y": 2400, "lab": "↑ Unsafe"}]}, "mark": {"type": "rule", "strokeWidth": 2.5},
        "encoding": {"stroke": {"field": "lab", "type": "nominal", "scale": {"range": ["#ff0000"]}, "legend": {"legendX": -94, "legendY": 5}}}},
       {"data": {"values": [{"y": 0, "y2": 2990}]}, "mark": {"type": "rect", "fillOpacity": 0, "stroke": "#000000", "strokeWidth": 1},
        "encoding": {"y2": {"field": "y2"}}}
      ]
     }
    ]
   }
  ]
 },
 {
  "resolve": {"scale": {"color": "independent", "stroke": "independent"}, "legend": {"color": "independent", "stroke": "independent"}},
  "spacing": 0,
  "hconcat": [
   {"width": 167, "height": 10, "data": {"values": []}, "mark": {"type": "point", "opacity": 0}},
   {
    "resolve": {"scale": {"color": "independent", "stroke": "independent"}, "legend": {"color": "independent", "stroke": "independent"}},
    "spacing": 20,
    "bounds": "flush",
    "title": {"text": "(c)  Initial velocity q̇c⁰ vs. robot mass mR", "orient": "bottom", "offset": 27, "anchor": "middle", "dx": -4},
    "hconcat": [
     {
      "width": 314, "height": 246,
      "layer": [
       {"data": {"name": "fc"}, "mark": "rect",
        "encoding": {
         "x": {"field": "x0", "type": "quantitative", "scale": {"domain": [0, 5], "nice": false, "zero": false}, "axis": {"values": [0, 1, 2, 3, 4, 5], "format": "d", "title": "Robot mass mR [kg]"}},
         "x2": {"field": "x1"},
         "y": {"field": "y0", "type": "quantitative", "scale": {"domain": [0, 2], "nice": false, "zero": false}, "axis": {"values": [0, 0.25, 0.5, 0.75, 1, 1.25, 1.5, 1.75, 2], "format": ".2f", "title": "Initial velocity q̇c⁰ [m/s]"}},
         "y2": {"field": "y1"},
         "color": {"field": "v", "type": "quantitative", "legend": null, "scale": {"domain": [0,150,300,450,600,750,900,1050,1200,1350,1500,1650,1800,1950,2100,2250,2400], "range": ["#3b4cc0","#4d68d7","#6282ea","#779af7","#8db0fe","#a3c2ff","#b8d0f9","#ccd9ee","#dddddd","#ecd3c5","#f5c4ad","#f7b194","#f49a7b","#ec7f63","#de604d","#cb3e38","#b40426"], "clamp": true, "interpolate": "rgb", "zero": false, "nice": false}}}},
       {"data": {"name": "hc"}, "mark": {"type": "rect", "strokeWidth": 0.6},
        "encoding": {
         "x": {"field": "m", "type": "quantitative", "bin": {"step": 0.25, "extent": [0, 5]}, "scale": {"domain": [0, 5], "nice": false, "zero": false}, "axis": {"values": [0, 1, 2, 3, 4, 5], "format": "d", "title": "Robot mass mR [kg]"}},
         "y": {"field": "w", "type": "quantitative", "bin": {"step": 0.0625, "extent": [0, 2]}, "scale": {"domain": [0, 2], "nice": false, "zero": false}, "axis": {"values": [0, 0.25, 0.5, 0.75, 1, 1.25, 1.5, 1.75, 2], "format": ".2f", "title": "Initial velocity q̇c⁰ [m/s]"}},
         "color": {"field": "v", "type": "quantitative", "legend": null, "scale": {"domain": [0,150,300,450,600,750,900,1050,1200,1350,1500,1650,1800,1950,2100,2250,2400], "range": ["#3b4cc0","#4d68d7","#6282ea","#779af7","#8db0fe","#a3c2ff","#b8d0f9","#ccd9ee","#dddddd","#ecd3c5","#f5c4ad","#f7b194","#f49a7b","#ec7f63","#de604d","#cb3e38","#b40426"], "clamp": true, "interpolate": "rgb", "zero": false, "nice": false}},
         "stroke": {"field": "v", "type": "quantitative", "legend": null, "scale": {"domain": [0,150,300,450,600,750,900,1050,1200,1350,1500,1650,1800,1950,2100,2250,2400], "range": ["#3b4cc0","#4d68d7","#6282ea","#779af7","#8db0fe","#a3c2ff","#b8d0f9","#ccd9ee","#dddddd","#ecd3c5","#f5c4ad","#f7b194","#f49a7b","#ec7f63","#de604d","#cb3e38","#b40426"], "clamp": true, "interpolate": "rgb", "zero": false, "nice": false}}}},
       {"data": {"name": "rc"}, "mark": {"type": "area", "color": "#b40426", "interpolate": "monotone", "clip": true},
        "encoding": {
         "x": {"field": "m", "type": "quantitative", "scale": {"domain": [0, 5], "nice": false, "zero": false}, "axis": {"values": [0, 1, 2, 3, 4, 5], "format": "d", "title": "Robot mass mR [kg]"}},
         "y": {"field": "lo", "type": "quantitative", "scale": {"domain": [0, 2], "nice": false, "zero": false}, "axis": {"values": [0, 0.25, 0.5, 0.75, 1, 1.25, 1.5, 1.75, 2], "format": ".2f", "title": "Initial velocity q̇c⁰ [m/s]"}},
         "y2": {"field": "hi"}}},
       {"data": {"name": "lc"}, "mark": {"type": "line", "color": "#000000", "strokeWidth": 1.8, "interpolate": "monotone", "clip": true},
        "encoding": {
         "x": {"field": "m", "type": "quantitative", "scale": {"domain": [0, 5], "nice": false, "zero": false}, "axis": {"values": [0, 1, 2, 3, 4, 5], "format": "d", "title": "Robot mass mR [kg]"}},
         "y": {"field": "w", "type": "quantitative", "scale": {"domain": [0, 2], "nice": false, "zero": false}, "axis": {"values": [0, 0.25, 0.5, 0.75, 1, 1.25, 1.5, 1.75, 2], "format": ".2f", "title": "Initial velocity q̇c⁰ [m/s]"}},
         "detail": {"field": "n", "type": "nominal"}}},
       {"data": {"name": "fc"}, "mark": {"type": "rect", "fillOpacity": 0, "stroke": "#000000", "strokeWidth": 1},
        "encoding": {
         "x": {"field": "x0", "type": "quantitative", "scale": {"domain": [0, 5], "nice": false, "zero": false}, "axis": {"values": [0, 1, 2, 3, 4, 5], "format": "d", "title": "Robot mass mR [kg]"}},
         "x2": {"field": "x1"},
         "y": {"field": "y0", "type": "quantitative", "scale": {"domain": [0, 2], "nice": false, "zero": false}, "axis": {"values": [0, 0.25, 0.5, 0.75, 1, 1.25, 1.5, 1.75, 2], "format": ".2f", "title": "Initial velocity q̇c⁰ [m/s]"}},
         "y2": {"field": "y1"}}}
      ]
     },
     {
      "width": 13, "height": 246,
      "encoding": {"y": {"field": "y", "type": "quantitative", "scale": {"domain": [0, 4637], "nice": false, "zero": false}, "axis": {"orient": "right", "values": [0,475,950,1425,1900,2375,2850,3325,3800,4275], "format": "d", "grid": false, "tickSize": 4, "labelPadding": 3, "title": "Injury Severity Criterion SRISC [kPa]", "titleAngle": 270, "titleBaseline": "top", "titlePadding": 6}}},
      "layer": [
       {"data": {"name": "cgb"}, "mark": "rect",
        "encoding": {"y2": {"field": "y2"}, "color": {"field": "y", "type": "quantitative", "legend": null, "scale": {"domain": [0,150,300,450,600,750,900,1050,1200,1350,1500,1650,1800,1950,2100,2250,2400], "range": ["#3b4cc0","#4d68d7","#6282ea","#779af7","#8db0fe","#a3c2ff","#b8d0f9","#ccd9ee","#dddddd","#ecd3c5","#f5c4ad","#f7b194","#f49a7b","#ec7f63","#de604d","#cb3e38","#b40426"], "clamp": true, "interpolate": "rgb", "zero": false, "nice": false}}}},
       {"data": {"values": [{"y": 2400, "y2": 4637}]}, "mark": {"type": "rect", "color": "#b40426"},
        "encoding": {"y2": {"field": "y2"}}},
       {"data": {"values": [{"y": 2400, "lab": "↑ Unsafe"}]}, "mark": {"type": "rule", "strokeWidth": 2.5},
        "encoding": {"stroke": {"field": "lab", "type": "nominal", "scale": {"range": ["#ff0000"]}, "legend": {"legendX": -94, "legendY": 5}}}},
       {"data": {"values": [{"y": 0, "y2": 4637}]}, "mark": {"type": "rect", "fillOpacity": 0, "stroke": "#000000", "strokeWidth": 1},
        "encoding": {"y2": {"field": "y2"}}}
      ]
     }
    ]
   }
  ]
 }
]
}
